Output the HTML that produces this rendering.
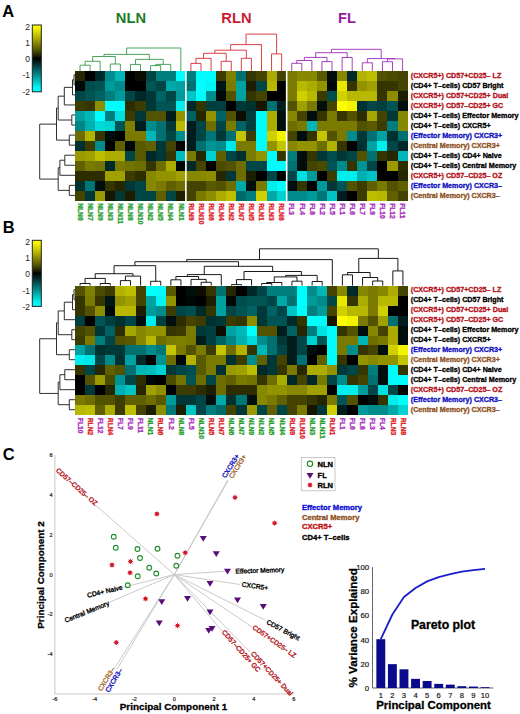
<!DOCTYPE html>
<html><head><meta charset="utf-8"><style>
html,body{margin:0;padding:0;background:#fff;width:520px;height:714px;overflow:hidden}
svg{display:block}
text{stroke-linejoin:round}
</style></head><body>
<svg width="520" height="714" viewBox="0 0 520 714" font-family='"Liberation Sans", sans-serif'>
<rect width="520" height="714" fill="#fff"/>
<g>
<text x="2.30" y="16.90" font-size="16.5" fill="#000" font-weight="bold" text-anchor="start">A</text>
<defs><linearGradient id="cb25" x1="0" y1="0" x2="0" y2="1"><stop offset="0.0000" stop-color="#ffff00"/><stop offset="0.0625" stop-color="#eded00"/><stop offset="0.1250" stop-color="#d0d000"/><stop offset="0.1875" stop-color="#b2b200"/><stop offset="0.2500" stop-color="#939300"/><stop offset="0.3125" stop-color="#737300"/><stop offset="0.3750" stop-color="#525200"/><stop offset="0.4375" stop-color="#2d2d00"/><stop offset="0.5000" stop-color="#000000"/><stop offset="0.5625" stop-color="#002323"/><stop offset="0.6250" stop-color="#004646"/><stop offset="0.6875" stop-color="#006969"/><stop offset="0.7500" stop-color="#008c8c"/><stop offset="0.8125" stop-color="#00afaf"/><stop offset="0.8750" stop-color="#00d2d2"/><stop offset="0.9375" stop-color="#00f5f5"/><stop offset="1.0000" stop-color="#00ffff"/></linearGradient></defs>
<rect x="32.3" y="25" width="9.0" height="66.8" fill="url(#cb25)" stroke="#222" stroke-width="1"/>
<text x="30.00" y="30.30" font-size="8.5" fill="#222" font-weight="normal" text-anchor="end">2</text>
<text x="30.00" y="46.00" font-size="8.5" fill="#222" font-weight="normal" text-anchor="end">1</text>
<text x="30.00" y="61.90" font-size="8.5" fill="#222" font-weight="normal" text-anchor="end">0</text>
<text x="30.00" y="78.40" font-size="8.5" fill="#222" font-weight="normal" text-anchor="end">-1</text>
<text x="30.00" y="94.50" font-size="8.5" fill="#222" font-weight="normal" text-anchor="end">-2</text>
<text x="130.90" y="22.90" font-size="14.7" fill="#1a7d26" font-weight="bold" text-anchor="middle">NLN</text>
<text x="236.40" y="22.90" font-size="14.7" fill="#cc1a30" font-weight="bold" text-anchor="middle">RLN</text>
<text x="347.10" y="22.90" font-size="14.7" fill="#921e9e" font-weight="bold" text-anchor="middle">FL</text>
<g shape-rendering="crispEdges">
<rect x="75.00" y="71.00" width="10.13" height="10.07" fill="#262600"/>
<rect x="75.00" y="81.02" width="10.13" height="10.07" fill="#000707"/>
<rect x="75.00" y="91.04" width="10.13" height="10.07" fill="#004646"/>
<rect x="75.00" y="101.06" width="10.13" height="10.07" fill="#3c3c00"/>
<rect x="75.00" y="111.08" width="10.13" height="10.07" fill="#00a1a1"/>
<rect x="75.00" y="121.10" width="10.13" height="10.07" fill="#008585"/>
<rect x="75.00" y="131.12" width="10.13" height="10.07" fill="#6d6d00"/>
<rect x="75.00" y="141.14" width="10.13" height="10.07" fill="#003131"/>
<rect x="75.00" y="151.16" width="10.13" height="10.07" fill="#9a9a00"/>
<rect x="75.00" y="161.18" width="10.13" height="10.07" fill="#606000"/>
<rect x="75.00" y="171.20" width="10.13" height="10.07" fill="#2d2d00"/>
<rect x="75.00" y="181.22" width="10.13" height="10.07" fill="#003131"/>
<rect x="75.00" y="191.24" width="10.13" height="10.07" fill="#444400"/>
<rect x="85.08" y="71.00" width="10.13" height="10.07" fill="#000000"/>
<rect x="85.08" y="81.02" width="10.13" height="10.07" fill="#004d4d"/>
<rect x="85.08" y="91.04" width="10.13" height="10.07" fill="#005454"/>
<rect x="85.08" y="101.06" width="10.13" height="10.07" fill="#353500"/>
<rect x="85.08" y="111.08" width="10.13" height="10.07" fill="#00b6b6"/>
<rect x="85.08" y="121.10" width="10.13" height="10.07" fill="#00afaf"/>
<rect x="85.08" y="131.12" width="10.13" height="10.07" fill="#b2b200"/>
<rect x="85.08" y="141.14" width="10.13" height="10.07" fill="#3c3c00"/>
<rect x="85.08" y="151.16" width="10.13" height="10.07" fill="#a0a000"/>
<rect x="85.08" y="161.18" width="10.13" height="10.07" fill="#7a7a00"/>
<rect x="85.08" y="171.20" width="10.13" height="10.07" fill="#2d2d00"/>
<rect x="85.08" y="181.22" width="10.13" height="10.07" fill="#007777"/>
<rect x="85.08" y="191.24" width="10.13" height="10.07" fill="#003838"/>
<rect x="95.16" y="71.00" width="10.13" height="10.07" fill="#002a2a"/>
<rect x="95.16" y="81.02" width="10.13" height="10.07" fill="#005454"/>
<rect x="95.16" y="91.04" width="10.13" height="10.07" fill="#006262"/>
<rect x="95.16" y="101.06" width="10.13" height="10.07" fill="#8d8d00"/>
<rect x="95.16" y="111.08" width="10.13" height="10.07" fill="#00ffff"/>
<rect x="95.16" y="121.10" width="10.13" height="10.07" fill="#00d9d9"/>
<rect x="95.16" y="131.12" width="10.13" height="10.07" fill="#353500"/>
<rect x="95.16" y="141.14" width="10.13" height="10.07" fill="#008c8c"/>
<rect x="95.16" y="151.16" width="10.13" height="10.07" fill="#bebe00"/>
<rect x="95.16" y="161.18" width="10.13" height="10.07" fill="#737300"/>
<rect x="95.16" y="171.20" width="10.13" height="10.07" fill="#2d2d00"/>
<rect x="95.16" y="181.22" width="10.13" height="10.07" fill="#000e0e"/>
<rect x="95.16" y="191.24" width="10.13" height="10.07" fill="#9a9a00"/>
<rect x="105.24" y="71.00" width="10.13" height="10.07" fill="#008c8c"/>
<rect x="105.24" y="81.02" width="10.13" height="10.07" fill="#009a9a"/>
<rect x="105.24" y="91.04" width="10.13" height="10.07" fill="#007e7e"/>
<rect x="105.24" y="101.06" width="10.13" height="10.07" fill="#00ffff"/>
<rect x="105.24" y="111.08" width="10.13" height="10.07" fill="#007e7e"/>
<rect x="105.24" y="121.10" width="10.13" height="10.07" fill="#00d2d2"/>
<rect x="105.24" y="131.12" width="10.13" height="10.07" fill="#000e0e"/>
<rect x="105.24" y="141.14" width="10.13" height="10.07" fill="#000000"/>
<rect x="105.24" y="151.16" width="10.13" height="10.07" fill="#acac00"/>
<rect x="105.24" y="161.18" width="10.13" height="10.07" fill="#002a2a"/>
<rect x="105.24" y="171.20" width="10.13" height="10.07" fill="#a0a000"/>
<rect x="105.24" y="181.22" width="10.13" height="10.07" fill="#353500"/>
<rect x="105.24" y="191.24" width="10.13" height="10.07" fill="#151500"/>
<rect x="115.32" y="71.00" width="10.13" height="10.07" fill="#00b6b6"/>
<rect x="115.32" y="81.02" width="10.13" height="10.07" fill="#008c8c"/>
<rect x="115.32" y="91.04" width="10.13" height="10.07" fill="#009a9a"/>
<rect x="115.32" y="101.06" width="10.13" height="10.07" fill="#00fcfc"/>
<rect x="115.32" y="111.08" width="10.13" height="10.07" fill="#00e0e0"/>
<rect x="115.32" y="121.10" width="10.13" height="10.07" fill="#005454"/>
<rect x="115.32" y="131.12" width="10.13" height="10.07" fill="#000000"/>
<rect x="115.32" y="141.14" width="10.13" height="10.07" fill="#606000"/>
<rect x="115.32" y="151.16" width="10.13" height="10.07" fill="#acac00"/>
<rect x="115.32" y="161.18" width="10.13" height="10.07" fill="#7a7a00"/>
<rect x="115.32" y="171.20" width="10.13" height="10.07" fill="#a0a000"/>
<rect x="115.32" y="181.22" width="10.13" height="10.07" fill="#262600"/>
<rect x="115.32" y="191.24" width="10.13" height="10.07" fill="#003838"/>
<rect x="125.40" y="71.00" width="10.13" height="10.07" fill="#000000"/>
<rect x="125.40" y="81.02" width="10.13" height="10.07" fill="#000000"/>
<rect x="125.40" y="91.04" width="10.13" height="10.07" fill="#004646"/>
<rect x="125.40" y="101.06" width="10.13" height="10.07" fill="#2d2d00"/>
<rect x="125.40" y="111.08" width="10.13" height="10.07" fill="#3c3c00"/>
<rect x="125.40" y="121.10" width="10.13" height="10.07" fill="#808000"/>
<rect x="125.40" y="131.12" width="10.13" height="10.07" fill="#7a7a00"/>
<rect x="125.40" y="141.14" width="10.13" height="10.07" fill="#000707"/>
<rect x="125.40" y="151.16" width="10.13" height="10.07" fill="#004646"/>
<rect x="125.40" y="161.18" width="10.13" height="10.07" fill="#737300"/>
<rect x="125.40" y="171.20" width="10.13" height="10.07" fill="#3c3c00"/>
<rect x="125.40" y="181.22" width="10.13" height="10.07" fill="#003838"/>
<rect x="125.40" y="191.24" width="10.13" height="10.07" fill="#1d1d00"/>
<rect x="135.48" y="71.00" width="10.13" height="10.07" fill="#0c0c00"/>
<rect x="135.48" y="81.02" width="10.13" height="10.07" fill="#000000"/>
<rect x="135.48" y="91.04" width="10.13" height="10.07" fill="#002a2a"/>
<rect x="135.48" y="101.06" width="10.13" height="10.07" fill="#3c3c00"/>
<rect x="135.48" y="111.08" width="10.13" height="10.07" fill="#003838"/>
<rect x="135.48" y="121.10" width="10.13" height="10.07" fill="#001c1c"/>
<rect x="135.48" y="131.12" width="10.13" height="10.07" fill="#7a7a00"/>
<rect x="135.48" y="141.14" width="10.13" height="10.07" fill="#595900"/>
<rect x="135.48" y="151.16" width="10.13" height="10.07" fill="#595900"/>
<rect x="135.48" y="161.18" width="10.13" height="10.07" fill="#6d6d00"/>
<rect x="135.48" y="171.20" width="10.13" height="10.07" fill="#2d2d00"/>
<rect x="135.48" y="181.22" width="10.13" height="10.07" fill="#004646"/>
<rect x="135.48" y="191.24" width="10.13" height="10.07" fill="#004646"/>
<rect x="145.56" y="71.00" width="10.13" height="10.07" fill="#004646"/>
<rect x="145.56" y="81.02" width="10.13" height="10.07" fill="#005454"/>
<rect x="145.56" y="91.04" width="10.13" height="10.07" fill="#003838"/>
<rect x="145.56" y="101.06" width="10.13" height="10.07" fill="#003838"/>
<rect x="145.56" y="111.08" width="10.13" height="10.07" fill="#525200"/>
<rect x="145.56" y="121.10" width="10.13" height="10.07" fill="#008c8c"/>
<rect x="145.56" y="131.12" width="10.13" height="10.07" fill="#00b6b6"/>
<rect x="145.56" y="141.14" width="10.13" height="10.07" fill="#606000"/>
<rect x="145.56" y="151.16" width="10.13" height="10.07" fill="#002a2a"/>
<rect x="145.56" y="161.18" width="10.13" height="10.07" fill="#353500"/>
<rect x="145.56" y="171.20" width="10.13" height="10.07" fill="#878700"/>
<rect x="145.56" y="181.22" width="10.13" height="10.07" fill="#878700"/>
<rect x="145.56" y="191.24" width="10.13" height="10.07" fill="#004646"/>
<rect x="155.64" y="71.00" width="10.13" height="10.07" fill="#007e7e"/>
<rect x="155.64" y="81.02" width="10.13" height="10.07" fill="#004646"/>
<rect x="155.64" y="91.04" width="10.13" height="10.07" fill="#006262"/>
<rect x="155.64" y="101.06" width="10.13" height="10.07" fill="#005454"/>
<rect x="155.64" y="111.08" width="10.13" height="10.07" fill="#525200"/>
<rect x="155.64" y="121.10" width="10.13" height="10.07" fill="#007070"/>
<rect x="155.64" y="131.12" width="10.13" height="10.07" fill="#007070"/>
<rect x="155.64" y="141.14" width="10.13" height="10.07" fill="#003838"/>
<rect x="155.64" y="151.16" width="10.13" height="10.07" fill="#003838"/>
<rect x="155.64" y="161.18" width="10.13" height="10.07" fill="#6d6d00"/>
<rect x="155.64" y="171.20" width="10.13" height="10.07" fill="#939300"/>
<rect x="155.64" y="181.22" width="10.13" height="10.07" fill="#7a7a00"/>
<rect x="155.64" y="191.24" width="10.13" height="10.07" fill="#606000"/>
<rect x="165.72" y="71.00" width="10.13" height="10.07" fill="#007e7e"/>
<rect x="165.72" y="81.02" width="10.13" height="10.07" fill="#00a8a8"/>
<rect x="165.72" y="91.04" width="10.13" height="10.07" fill="#004646"/>
<rect x="165.72" y="101.06" width="10.13" height="10.07" fill="#005454"/>
<rect x="165.72" y="111.08" width="10.13" height="10.07" fill="#001c1c"/>
<rect x="165.72" y="121.10" width="10.13" height="10.07" fill="#003838"/>
<rect x="165.72" y="131.12" width="10.13" height="10.07" fill="#004646"/>
<rect x="165.72" y="141.14" width="10.13" height="10.07" fill="#444400"/>
<rect x="165.72" y="151.16" width="10.13" height="10.07" fill="#353500"/>
<rect x="165.72" y="161.18" width="10.13" height="10.07" fill="#acac00"/>
<rect x="165.72" y="171.20" width="10.13" height="10.07" fill="#939300"/>
<rect x="165.72" y="181.22" width="10.13" height="10.07" fill="#606000"/>
<rect x="165.72" y="191.24" width="10.13" height="10.07" fill="#004646"/>
<rect x="175.80" y="71.00" width="10.13" height="10.07" fill="#00ffff"/>
<rect x="175.80" y="81.02" width="10.13" height="10.07" fill="#00a1a1"/>
<rect x="175.80" y="91.04" width="10.13" height="10.07" fill="#009a9a"/>
<rect x="175.80" y="101.06" width="10.13" height="10.07" fill="#00eeee"/>
<rect x="175.80" y="111.08" width="10.13" height="10.07" fill="#939300"/>
<rect x="175.80" y="121.10" width="10.13" height="10.07" fill="#b8b800"/>
<rect x="175.80" y="131.12" width="10.13" height="10.07" fill="#008c8c"/>
<rect x="175.80" y="141.14" width="10.13" height="10.07" fill="#000000"/>
<rect x="175.80" y="151.16" width="10.13" height="10.07" fill="#00bdbd"/>
<rect x="175.80" y="161.18" width="10.13" height="10.07" fill="#000707"/>
<rect x="175.80" y="171.20" width="10.13" height="10.07" fill="#a0a000"/>
<rect x="175.80" y="181.22" width="10.13" height="10.07" fill="#6d6d00"/>
<rect x="175.80" y="191.24" width="10.13" height="10.07" fill="#1d1d00"/>
<rect x="185.88" y="71.00" width="10.13" height="10.07" fill="#007e7e"/>
<rect x="185.88" y="81.02" width="10.13" height="10.07" fill="#007070"/>
<rect x="185.88" y="91.04" width="10.13" height="10.07" fill="#00c4c4"/>
<rect x="185.88" y="101.06" width="10.13" height="10.07" fill="#002a2a"/>
<rect x="185.88" y="111.08" width="10.13" height="10.07" fill="#006262"/>
<rect x="185.88" y="121.10" width="10.13" height="10.07" fill="#001c1c"/>
<rect x="185.88" y="131.12" width="10.13" height="10.07" fill="#001c1c"/>
<rect x="185.88" y="141.14" width="10.13" height="10.07" fill="#001c1c"/>
<rect x="185.88" y="151.16" width="10.13" height="10.07" fill="#7a7a00"/>
<rect x="185.88" y="161.18" width="10.13" height="10.07" fill="#002a2a"/>
<rect x="185.88" y="171.20" width="10.13" height="10.07" fill="#878700"/>
<rect x="185.88" y="181.22" width="10.13" height="10.07" fill="#444400"/>
<rect x="185.88" y="191.24" width="10.13" height="10.07" fill="#444400"/>
<rect x="195.96" y="71.00" width="10.13" height="10.07" fill="#00fcfc"/>
<rect x="195.96" y="81.02" width="10.13" height="10.07" fill="#00ffff"/>
<rect x="195.96" y="91.04" width="10.13" height="10.07" fill="#00fcfc"/>
<rect x="195.96" y="101.06" width="10.13" height="10.07" fill="#353500"/>
<rect x="195.96" y="111.08" width="10.13" height="10.07" fill="#262600"/>
<rect x="195.96" y="121.10" width="10.13" height="10.07" fill="#004646"/>
<rect x="195.96" y="131.12" width="10.13" height="10.07" fill="#004646"/>
<rect x="195.96" y="141.14" width="10.13" height="10.07" fill="#007070"/>
<rect x="195.96" y="151.16" width="10.13" height="10.07" fill="#262600"/>
<rect x="195.96" y="161.18" width="10.13" height="10.07" fill="#444400"/>
<rect x="195.96" y="171.20" width="10.13" height="10.07" fill="#878700"/>
<rect x="195.96" y="181.22" width="10.13" height="10.07" fill="#444400"/>
<rect x="195.96" y="191.24" width="10.13" height="10.07" fill="#7a7a00"/>
<rect x="206.04" y="71.00" width="10.13" height="10.07" fill="#00fcfc"/>
<rect x="206.04" y="81.02" width="10.13" height="10.07" fill="#00f5f5"/>
<rect x="206.04" y="91.04" width="10.13" height="10.07" fill="#008c8c"/>
<rect x="206.04" y="101.06" width="10.13" height="10.07" fill="#003f3f"/>
<rect x="206.04" y="111.08" width="10.13" height="10.07" fill="#939300"/>
<rect x="206.04" y="121.10" width="10.13" height="10.07" fill="#6d6d00"/>
<rect x="206.04" y="131.12" width="10.13" height="10.07" fill="#007777"/>
<rect x="206.04" y="141.14" width="10.13" height="10.07" fill="#009393"/>
<rect x="206.04" y="151.16" width="10.13" height="10.07" fill="#00d2d2"/>
<rect x="206.04" y="161.18" width="10.13" height="10.07" fill="#000000"/>
<rect x="206.04" y="171.20" width="10.13" height="10.07" fill="#8d8d00"/>
<rect x="206.04" y="181.22" width="10.13" height="10.07" fill="#595900"/>
<rect x="206.04" y="191.24" width="10.13" height="10.07" fill="#8d8d00"/>
<rect x="216.12" y="71.00" width="10.13" height="10.07" fill="#3c3c00"/>
<rect x="216.12" y="81.02" width="10.13" height="10.07" fill="#001515"/>
<rect x="216.12" y="91.04" width="10.13" height="10.07" fill="#000707"/>
<rect x="216.12" y="101.06" width="10.13" height="10.07" fill="#003f3f"/>
<rect x="216.12" y="111.08" width="10.13" height="10.07" fill="#006262"/>
<rect x="216.12" y="121.10" width="10.13" height="10.07" fill="#004646"/>
<rect x="216.12" y="131.12" width="10.13" height="10.07" fill="#003838"/>
<rect x="216.12" y="141.14" width="10.13" height="10.07" fill="#008c8c"/>
<rect x="216.12" y="151.16" width="10.13" height="10.07" fill="#606000"/>
<rect x="216.12" y="161.18" width="10.13" height="10.07" fill="#4b4b00"/>
<rect x="216.12" y="171.20" width="10.13" height="10.07" fill="#262600"/>
<rect x="216.12" y="181.22" width="10.13" height="10.07" fill="#525200"/>
<rect x="216.12" y="191.24" width="10.13" height="10.07" fill="#acac00"/>
<rect x="226.20" y="71.00" width="10.13" height="10.07" fill="#808000"/>
<rect x="226.20" y="81.02" width="10.13" height="10.07" fill="#7a7a00"/>
<rect x="226.20" y="91.04" width="10.13" height="10.07" fill="#525200"/>
<rect x="226.20" y="101.06" width="10.13" height="10.07" fill="#000000"/>
<rect x="226.20" y="111.08" width="10.13" height="10.07" fill="#525200"/>
<rect x="226.20" y="121.10" width="10.13" height="10.07" fill="#7a7a00"/>
<rect x="226.20" y="131.12" width="10.13" height="10.07" fill="#007070"/>
<rect x="226.20" y="141.14" width="10.13" height="10.07" fill="#00e7e7"/>
<rect x="226.20" y="151.16" width="10.13" height="10.07" fill="#004646"/>
<rect x="226.20" y="161.18" width="10.13" height="10.07" fill="#525200"/>
<rect x="226.20" y="171.20" width="10.13" height="10.07" fill="#003838"/>
<rect x="226.20" y="181.22" width="10.13" height="10.07" fill="#6d6d00"/>
<rect x="226.20" y="191.24" width="10.13" height="10.07" fill="#bebe00"/>
<rect x="236.28" y="71.00" width="10.13" height="10.07" fill="#007070"/>
<rect x="236.28" y="81.02" width="10.13" height="10.07" fill="#00a1a1"/>
<rect x="236.28" y="91.04" width="10.13" height="10.07" fill="#00a1a1"/>
<rect x="236.28" y="101.06" width="10.13" height="10.07" fill="#003838"/>
<rect x="236.28" y="111.08" width="10.13" height="10.07" fill="#0c0c00"/>
<rect x="236.28" y="121.10" width="10.13" height="10.07" fill="#006262"/>
<rect x="236.28" y="131.12" width="10.13" height="10.07" fill="#c4c400"/>
<rect x="236.28" y="141.14" width="10.13" height="10.07" fill="#7a7a00"/>
<rect x="236.28" y="151.16" width="10.13" height="10.07" fill="#003131"/>
<rect x="236.28" y="161.18" width="10.13" height="10.07" fill="#6d6d00"/>
<rect x="236.28" y="171.20" width="10.13" height="10.07" fill="#6d6d00"/>
<rect x="236.28" y="181.22" width="10.13" height="10.07" fill="#00a8a8"/>
<rect x="236.28" y="191.24" width="10.13" height="10.07" fill="#006969"/>
<rect x="246.36" y="71.00" width="10.13" height="10.07" fill="#353500"/>
<rect x="246.36" y="81.02" width="10.13" height="10.07" fill="#1d1d00"/>
<rect x="246.36" y="91.04" width="10.13" height="10.07" fill="#353500"/>
<rect x="246.36" y="101.06" width="10.13" height="10.07" fill="#003131"/>
<rect x="246.36" y="111.08" width="10.13" height="10.07" fill="#003f3f"/>
<rect x="246.36" y="121.10" width="10.13" height="10.07" fill="#003f3f"/>
<rect x="246.36" y="131.12" width="10.13" height="10.07" fill="#3c3c00"/>
<rect x="246.36" y="141.14" width="10.13" height="10.07" fill="#7a7a00"/>
<rect x="246.36" y="151.16" width="10.13" height="10.07" fill="#7a7a00"/>
<rect x="246.36" y="161.18" width="10.13" height="10.07" fill="#004646"/>
<rect x="246.36" y="171.20" width="10.13" height="10.07" fill="#1d1d00"/>
<rect x="246.36" y="181.22" width="10.13" height="10.07" fill="#000e0e"/>
<rect x="246.36" y="191.24" width="10.13" height="10.07" fill="#007e7e"/>
<rect x="256.44" y="71.00" width="10.13" height="10.07" fill="#444400"/>
<rect x="256.44" y="81.02" width="10.13" height="10.07" fill="#004646"/>
<rect x="256.44" y="91.04" width="10.13" height="10.07" fill="#444400"/>
<rect x="256.44" y="101.06" width="10.13" height="10.07" fill="#151500"/>
<rect x="256.44" y="111.08" width="10.13" height="10.07" fill="#00fcfc"/>
<rect x="256.44" y="121.10" width="10.13" height="10.07" fill="#00fcfc"/>
<rect x="256.44" y="131.12" width="10.13" height="10.07" fill="#00fcfc"/>
<rect x="256.44" y="141.14" width="10.13" height="10.07" fill="#00fcfc"/>
<rect x="256.44" y="151.16" width="10.13" height="10.07" fill="#939300"/>
<rect x="256.44" y="161.18" width="10.13" height="10.07" fill="#004646"/>
<rect x="256.44" y="171.20" width="10.13" height="10.07" fill="#000000"/>
<rect x="256.44" y="181.22" width="10.13" height="10.07" fill="#7a7a00"/>
<rect x="256.44" y="191.24" width="10.13" height="10.07" fill="#d0d000"/>
<rect x="266.52" y="71.00" width="10.13" height="10.07" fill="#acac00"/>
<rect x="266.52" y="81.02" width="10.13" height="10.07" fill="#b8b800"/>
<rect x="266.52" y="91.04" width="10.13" height="10.07" fill="#000000"/>
<rect x="266.52" y="101.06" width="10.13" height="10.07" fill="#007070"/>
<rect x="266.52" y="111.08" width="10.13" height="10.07" fill="#acac00"/>
<rect x="266.52" y="121.10" width="10.13" height="10.07" fill="#acac00"/>
<rect x="266.52" y="131.12" width="10.13" height="10.07" fill="#d0d000"/>
<rect x="266.52" y="141.14" width="10.13" height="10.07" fill="#939300"/>
<rect x="266.52" y="151.16" width="10.13" height="10.07" fill="#00fcfc"/>
<rect x="266.52" y="161.18" width="10.13" height="10.07" fill="#00fcfc"/>
<rect x="266.52" y="171.20" width="10.13" height="10.07" fill="#004646"/>
<rect x="266.52" y="181.22" width="10.13" height="10.07" fill="#00eeee"/>
<rect x="266.52" y="191.24" width="10.13" height="10.07" fill="#00a8a8"/>
<rect x="276.60" y="71.00" width="10.13" height="10.07" fill="#444400"/>
<rect x="276.60" y="81.02" width="10.13" height="10.07" fill="#000000"/>
<rect x="276.60" y="91.04" width="10.13" height="10.07" fill="#000000"/>
<rect x="276.60" y="101.06" width="10.13" height="10.07" fill="#001c1c"/>
<rect x="276.60" y="111.08" width="10.13" height="10.07" fill="#000e0e"/>
<rect x="276.60" y="121.10" width="10.13" height="10.07" fill="#000e0e"/>
<rect x="276.60" y="131.12" width="10.13" height="10.07" fill="#f3f300"/>
<rect x="276.60" y="141.14" width="10.13" height="10.07" fill="#c4c400"/>
<rect x="276.60" y="151.16" width="10.13" height="10.07" fill="#353500"/>
<rect x="276.60" y="161.18" width="10.13" height="10.07" fill="#00fcfc"/>
<rect x="276.60" y="171.20" width="10.13" height="10.07" fill="#000000"/>
<rect x="276.60" y="181.22" width="10.13" height="10.07" fill="#00fcfc"/>
<rect x="276.60" y="191.24" width="10.13" height="10.07" fill="#00d2d2"/>
<rect x="286.68" y="71.00" width="10.13" height="10.07" fill="#7a7a00"/>
<rect x="286.68" y="81.02" width="10.13" height="10.07" fill="#7a7a00"/>
<rect x="286.68" y="91.04" width="10.13" height="10.07" fill="#7a7a00"/>
<rect x="286.68" y="101.06" width="10.13" height="10.07" fill="#525200"/>
<rect x="286.68" y="111.08" width="10.13" height="10.07" fill="#878700"/>
<rect x="286.68" y="121.10" width="10.13" height="10.07" fill="#6d6d00"/>
<rect x="286.68" y="131.12" width="10.13" height="10.07" fill="#444400"/>
<rect x="286.68" y="141.14" width="10.13" height="10.07" fill="#878700"/>
<rect x="286.68" y="151.16" width="10.13" height="10.07" fill="#007e7e"/>
<rect x="286.68" y="161.18" width="10.13" height="10.07" fill="#007070"/>
<rect x="286.68" y="171.20" width="10.13" height="10.07" fill="#004646"/>
<rect x="286.68" y="181.22" width="10.13" height="10.07" fill="#000e0e"/>
<rect x="286.68" y="191.24" width="10.13" height="10.07" fill="#008c8c"/>
<rect x="296.76" y="71.00" width="10.13" height="10.07" fill="#878700"/>
<rect x="296.76" y="81.02" width="10.13" height="10.07" fill="#b8b800"/>
<rect x="296.76" y="91.04" width="10.13" height="10.07" fill="#d0d000"/>
<rect x="296.76" y="101.06" width="10.13" height="10.07" fill="#a0a000"/>
<rect x="296.76" y="111.08" width="10.13" height="10.07" fill="#444400"/>
<rect x="296.76" y="121.10" width="10.13" height="10.07" fill="#7a7a00"/>
<rect x="296.76" y="131.12" width="10.13" height="10.07" fill="#000e0e"/>
<rect x="296.76" y="141.14" width="10.13" height="10.07" fill="#939300"/>
<rect x="296.76" y="151.16" width="10.13" height="10.07" fill="#000e0e"/>
<rect x="296.76" y="161.18" width="10.13" height="10.07" fill="#000e0e"/>
<rect x="296.76" y="171.20" width="10.13" height="10.07" fill="#00e0e0"/>
<rect x="296.76" y="181.22" width="10.13" height="10.07" fill="#353500"/>
<rect x="296.76" y="191.24" width="10.13" height="10.07" fill="#008c8c"/>
<rect x="306.84" y="71.00" width="10.13" height="10.07" fill="#878700"/>
<rect x="306.84" y="81.02" width="10.13" height="10.07" fill="#acac00"/>
<rect x="306.84" y="91.04" width="10.13" height="10.07" fill="#b8b800"/>
<rect x="306.84" y="101.06" width="10.13" height="10.07" fill="#7a7a00"/>
<rect x="306.84" y="111.08" width="10.13" height="10.07" fill="#000e0e"/>
<rect x="306.84" y="121.10" width="10.13" height="10.07" fill="#00b6b6"/>
<rect x="306.84" y="131.12" width="10.13" height="10.07" fill="#353500"/>
<rect x="306.84" y="141.14" width="10.13" height="10.07" fill="#939300"/>
<rect x="306.84" y="151.16" width="10.13" height="10.07" fill="#353500"/>
<rect x="306.84" y="161.18" width="10.13" height="10.07" fill="#444400"/>
<rect x="306.84" y="171.20" width="10.13" height="10.07" fill="#009a9a"/>
<rect x="306.84" y="181.22" width="10.13" height="10.07" fill="#000000"/>
<rect x="306.84" y="191.24" width="10.13" height="10.07" fill="#009a9a"/>
<rect x="316.92" y="71.00" width="10.13" height="10.07" fill="#595900"/>
<rect x="316.92" y="81.02" width="10.13" height="10.07" fill="#939300"/>
<rect x="316.92" y="91.04" width="10.13" height="10.07" fill="#3c3c00"/>
<rect x="316.92" y="101.06" width="10.13" height="10.07" fill="#000e0e"/>
<rect x="316.92" y="111.08" width="10.13" height="10.07" fill="#353500"/>
<rect x="316.92" y="121.10" width="10.13" height="10.07" fill="#7a7a00"/>
<rect x="316.92" y="131.12" width="10.13" height="10.07" fill="#c4c400"/>
<rect x="316.92" y="141.14" width="10.13" height="10.07" fill="#6d6d00"/>
<rect x="316.92" y="151.16" width="10.13" height="10.07" fill="#003838"/>
<rect x="316.92" y="161.18" width="10.13" height="10.07" fill="#4b4b00"/>
<rect x="316.92" y="171.20" width="10.13" height="10.07" fill="#000000"/>
<rect x="316.92" y="181.22" width="10.13" height="10.07" fill="#009a9a"/>
<rect x="316.92" y="191.24" width="10.13" height="10.07" fill="#007777"/>
<rect x="327.00" y="71.00" width="10.13" height="10.07" fill="#000e0e"/>
<rect x="327.00" y="81.02" width="10.13" height="10.07" fill="#000707"/>
<rect x="327.00" y="91.04" width="10.13" height="10.07" fill="#004d4d"/>
<rect x="327.00" y="101.06" width="10.13" height="10.07" fill="#444400"/>
<rect x="327.00" y="111.08" width="10.13" height="10.07" fill="#7a7a00"/>
<rect x="327.00" y="121.10" width="10.13" height="10.07" fill="#7a7a00"/>
<rect x="327.00" y="131.12" width="10.13" height="10.07" fill="#525200"/>
<rect x="327.00" y="141.14" width="10.13" height="10.07" fill="#b2b200"/>
<rect x="327.00" y="151.16" width="10.13" height="10.07" fill="#004d4d"/>
<rect x="327.00" y="161.18" width="10.13" height="10.07" fill="#005454"/>
<rect x="327.00" y="171.20" width="10.13" height="10.07" fill="#3c3c00"/>
<rect x="327.00" y="181.22" width="10.13" height="10.07" fill="#003838"/>
<rect x="327.00" y="191.24" width="10.13" height="10.07" fill="#00c4c4"/>
<rect x="337.08" y="71.00" width="10.13" height="10.07" fill="#878700"/>
<rect x="337.08" y="81.02" width="10.13" height="10.07" fill="#e8e800"/>
<rect x="337.08" y="91.04" width="10.13" height="10.07" fill="#d0d000"/>
<rect x="337.08" y="101.06" width="10.13" height="10.07" fill="#fefe00"/>
<rect x="337.08" y="111.08" width="10.13" height="10.07" fill="#353500"/>
<rect x="337.08" y="121.10" width="10.13" height="10.07" fill="#7a7a00"/>
<rect x="337.08" y="131.12" width="10.13" height="10.07" fill="#7a7a00"/>
<rect x="337.08" y="141.14" width="10.13" height="10.07" fill="#353500"/>
<rect x="337.08" y="151.16" width="10.13" height="10.07" fill="#003838"/>
<rect x="337.08" y="161.18" width="10.13" height="10.07" fill="#008c8c"/>
<rect x="337.08" y="171.20" width="10.13" height="10.07" fill="#00eeee"/>
<rect x="337.08" y="181.22" width="10.13" height="10.07" fill="#005454"/>
<rect x="337.08" y="191.24" width="10.13" height="10.07" fill="#001c1c"/>
<rect x="347.16" y="71.00" width="10.13" height="10.07" fill="#002a2a"/>
<rect x="347.16" y="81.02" width="10.13" height="10.07" fill="#353500"/>
<rect x="347.16" y="91.04" width="10.13" height="10.07" fill="#b8b800"/>
<rect x="347.16" y="101.06" width="10.13" height="10.07" fill="#f3f300"/>
<rect x="347.16" y="111.08" width="10.13" height="10.07" fill="#525200"/>
<rect x="347.16" y="121.10" width="10.13" height="10.07" fill="#7a7a00"/>
<rect x="347.16" y="131.12" width="10.13" height="10.07" fill="#008c8c"/>
<rect x="347.16" y="141.14" width="10.13" height="10.07" fill="#000000"/>
<rect x="347.16" y="151.16" width="10.13" height="10.07" fill="#004646"/>
<rect x="347.16" y="161.18" width="10.13" height="10.07" fill="#353500"/>
<rect x="347.16" y="171.20" width="10.13" height="10.07" fill="#00eeee"/>
<rect x="347.16" y="181.22" width="10.13" height="10.07" fill="#525200"/>
<rect x="347.16" y="191.24" width="10.13" height="10.07" fill="#000000"/>
<rect x="357.24" y="71.00" width="10.13" height="10.07" fill="#b2b200"/>
<rect x="357.24" y="81.02" width="10.13" height="10.07" fill="#939300"/>
<rect x="357.24" y="91.04" width="10.13" height="10.07" fill="#b8b800"/>
<rect x="357.24" y="101.06" width="10.13" height="10.07" fill="#003131"/>
<rect x="357.24" y="111.08" width="10.13" height="10.07" fill="#2d2d00"/>
<rect x="357.24" y="121.10" width="10.13" height="10.07" fill="#525200"/>
<rect x="357.24" y="131.12" width="10.13" height="10.07" fill="#003838"/>
<rect x="357.24" y="141.14" width="10.13" height="10.07" fill="#003131"/>
<rect x="357.24" y="151.16" width="10.13" height="10.07" fill="#525200"/>
<rect x="357.24" y="161.18" width="10.13" height="10.07" fill="#009393"/>
<rect x="357.24" y="171.20" width="10.13" height="10.07" fill="#00afaf"/>
<rect x="357.24" y="181.22" width="10.13" height="10.07" fill="#3c3c00"/>
<rect x="357.24" y="191.24" width="10.13" height="10.07" fill="#3c3c00"/>
<rect x="367.32" y="71.00" width="10.13" height="10.07" fill="#bebe00"/>
<rect x="367.32" y="81.02" width="10.13" height="10.07" fill="#a0a000"/>
<rect x="367.32" y="91.04" width="10.13" height="10.07" fill="#b8b800"/>
<rect x="367.32" y="101.06" width="10.13" height="10.07" fill="#004646"/>
<rect x="367.32" y="111.08" width="10.13" height="10.07" fill="#a6a600"/>
<rect x="367.32" y="121.10" width="10.13" height="10.07" fill="#595900"/>
<rect x="367.32" y="131.12" width="10.13" height="10.07" fill="#007070"/>
<rect x="367.32" y="141.14" width="10.13" height="10.07" fill="#00a1a1"/>
<rect x="367.32" y="151.16" width="10.13" height="10.07" fill="#007070"/>
<rect x="367.32" y="161.18" width="10.13" height="10.07" fill="#004646"/>
<rect x="367.32" y="171.20" width="10.13" height="10.07" fill="#00c4c4"/>
<rect x="367.32" y="181.22" width="10.13" height="10.07" fill="#606000"/>
<rect x="367.32" y="191.24" width="10.13" height="10.07" fill="#bebe00"/>
<rect x="377.40" y="71.00" width="10.13" height="10.07" fill="#525200"/>
<rect x="377.40" y="81.02" width="10.13" height="10.07" fill="#353500"/>
<rect x="377.40" y="91.04" width="10.13" height="10.07" fill="#353500"/>
<rect x="377.40" y="101.06" width="10.13" height="10.07" fill="#003f3f"/>
<rect x="377.40" y="111.08" width="10.13" height="10.07" fill="#444400"/>
<rect x="377.40" y="121.10" width="10.13" height="10.07" fill="#3c3c00"/>
<rect x="377.40" y="131.12" width="10.13" height="10.07" fill="#00a1a1"/>
<rect x="377.40" y="141.14" width="10.13" height="10.07" fill="#00eeee"/>
<rect x="377.40" y="151.16" width="10.13" height="10.07" fill="#353500"/>
<rect x="377.40" y="161.18" width="10.13" height="10.07" fill="#000000"/>
<rect x="377.40" y="171.20" width="10.13" height="10.07" fill="#000000"/>
<rect x="377.40" y="181.22" width="10.13" height="10.07" fill="#7a7a00"/>
<rect x="377.40" y="191.24" width="10.13" height="10.07" fill="#b8b800"/>
<rect x="387.48" y="71.00" width="10.13" height="10.07" fill="#4b4b00"/>
<rect x="387.48" y="81.02" width="10.13" height="10.07" fill="#353500"/>
<rect x="387.48" y="91.04" width="10.13" height="10.07" fill="#8d8d00"/>
<rect x="387.48" y="101.06" width="10.13" height="10.07" fill="#005454"/>
<rect x="387.48" y="111.08" width="10.13" height="10.07" fill="#003838"/>
<rect x="387.48" y="121.10" width="10.13" height="10.07" fill="#007e7e"/>
<rect x="387.48" y="131.12" width="10.13" height="10.07" fill="#003131"/>
<rect x="387.48" y="141.14" width="10.13" height="10.07" fill="#004646"/>
<rect x="387.48" y="151.16" width="10.13" height="10.07" fill="#262600"/>
<rect x="387.48" y="161.18" width="10.13" height="10.07" fill="#9a9a00"/>
<rect x="387.48" y="171.20" width="10.13" height="10.07" fill="#000000"/>
<rect x="387.48" y="181.22" width="10.13" height="10.07" fill="#525200"/>
<rect x="387.48" y="191.24" width="10.13" height="10.07" fill="#606000"/>
<rect x="397.56" y="71.00" width="10.13" height="10.07" fill="#444400"/>
<rect x="397.56" y="81.02" width="10.13" height="10.07" fill="#444400"/>
<rect x="397.56" y="91.04" width="10.13" height="10.07" fill="#1d1d00"/>
<rect x="397.56" y="101.06" width="10.13" height="10.07" fill="#000e0e"/>
<rect x="397.56" y="111.08" width="10.13" height="10.07" fill="#878700"/>
<rect x="397.56" y="121.10" width="10.13" height="10.07" fill="#878700"/>
<rect x="397.56" y="131.12" width="10.13" height="10.07" fill="#007070"/>
<rect x="397.56" y="141.14" width="10.13" height="10.07" fill="#002a2a"/>
<rect x="397.56" y="151.16" width="10.13" height="10.07" fill="#00b6b6"/>
<rect x="397.56" y="161.18" width="10.13" height="10.07" fill="#2d2d00"/>
<rect x="397.56" y="171.20" width="10.13" height="10.07" fill="#262600"/>
<rect x="397.56" y="181.22" width="10.13" height="10.07" fill="#606000"/>
<rect x="397.56" y="191.24" width="10.13" height="10.07" fill="#444400"/>
</g>
<rect x="185.08" y="71.00" width="1.6" height="130.26" fill="#fff"/>
<rect x="285.88" y="71.00" width="1.6" height="130.26" fill="#fff"/>
<path d="M80.04,71.00V65.20H90.12V71.00M85.08,65.20V61.30H100.20V71.00M110.28,71.00V64.00H120.36V71.00M92.64,61.30V56.50H115.32V64.00M130.44,71.00V64.40H140.52V71.00M150.60,71.00V65.60H160.68V71.00M155.64,65.60V64.40H170.76V71.00M135.48,64.40V59.40H163.20V64.40M103.98,56.50V54.40H149.34V59.40M126.66,54.40V48.00H180.84V71.00" fill="none" stroke="#36984a" stroke-width="0.9"/>
<path d="M190.92,71.00V63.40H201.00V71.00M195.96,63.40V58.30H211.08V71.00M221.16,71.00V61.30H231.24V71.00M203.52,58.30V53.30H226.20V61.30M241.32,71.00V58.30H251.40V71.00M214.86,53.30V50.20H246.36V58.30M230.61,50.20V44.60H261.48V71.00M271.56,71.00V53.90H281.64V71.00M246.05,44.60V34.10H276.60V53.90" fill="none" stroke="#d82a32" stroke-width="0.9"/>
<path d="M291.72,71.00V63.30H301.80V71.00M296.76,63.30V60.50H311.88V71.00M321.96,71.00V61.60H332.04V71.00M304.32,60.50V57.40H327.00V61.60M342.12,71.00V57.50H352.20V71.00M315.66,57.40V52.70H347.16V57.50M362.28,71.00V62.80H372.36V71.00M382.44,71.00V61.70H392.52V71.00M387.48,61.70V58.90H402.60V71.00M367.32,62.80V58.60H395.04V58.90M331.41,52.70V49.30H381.18V58.60" fill="none" stroke="#a02ab8" stroke-width="0.9"/>
<path d="M75.00,74.80H74.00V84.85H75.00M74.00,79.82H72.50V94.90H75.00M72.50,87.36H64.30V104.95H75.00M75.00,115.00H71.80V125.05H75.00M64.30,96.16H58.20V120.03H71.80M75.00,135.10H69.30V145.15H75.00M58.20,108.09H56.50V140.12H69.30M75.00,155.20H64.80V165.25H75.00M64.80,160.22H59.90V175.30H75.00M75.00,185.35H69.30V195.40H75.00M59.90,167.76H58.20V190.38H69.30M56.50,124.11H39.70V179.07H58.20" fill="none" stroke="#1a1a1a" stroke-width="0.9"/>
<text x="410.80" y="77.62" font-size="7.15" fill="#b41018" font-weight="bold" text-anchor="start" stroke="#b41018" stroke-width="0.32">(CXCR5+) CD57+CD25– LZ</text>
<text x="410.80" y="87.67" font-size="7.15" fill="#000000" font-weight="bold" text-anchor="start" stroke="#000000" stroke-width="0.32">(CD4+ T–cells) CD57 Bright</text>
<text x="410.80" y="97.72" font-size="7.15" fill="#b41018" font-weight="bold" text-anchor="start" stroke="#b41018" stroke-width="0.32">(CXCR5+) CD57+CD25+ Dual</text>
<text x="410.80" y="107.78" font-size="7.15" fill="#b41018" font-weight="bold" text-anchor="start" stroke="#b41018" stroke-width="0.32">(CXCR5+) CD57–CD25+ GC</text>
<text x="410.80" y="117.82" font-size="7.15" fill="#000000" font-weight="bold" text-anchor="start" stroke="#000000" stroke-width="0.32">(CD4+ T–cells) Effector Memory</text>
<text x="410.80" y="127.88" font-size="7.15" fill="#000000" font-weight="bold" text-anchor="start" stroke="#000000" stroke-width="0.32">(CD4+ T–cells) CXCR5+</text>
<text x="410.80" y="137.93" font-size="7.15" fill="#1010c0" font-weight="bold" text-anchor="start" stroke="#1010c0" stroke-width="0.32">(Effector Memory) CXCR3+</text>
<text x="410.80" y="147.97" font-size="7.15" fill="#8e521e" font-weight="bold" text-anchor="start" stroke="#8e521e" stroke-width="0.32">(Central Memory) CXCR3+</text>
<text x="410.80" y="158.03" font-size="7.15" fill="#000000" font-weight="bold" text-anchor="start" stroke="#000000" stroke-width="0.32">(CD4+ T–cells) CD4+ Naive</text>
<text x="410.80" y="168.07" font-size="7.15" fill="#000000" font-weight="bold" text-anchor="start" stroke="#000000" stroke-width="0.32">(CD4+ T–cells) Central Memory</text>
<text x="410.80" y="178.12" font-size="7.15" fill="#b41018" font-weight="bold" text-anchor="start" stroke="#b41018" stroke-width="0.32">(CXCR5+) CD57–CD25– OZ</text>
<text x="410.80" y="188.18" font-size="7.15" fill="#1010c0" font-weight="bold" text-anchor="start" stroke="#1010c0" stroke-width="0.32">(Effector Memory) CXCR3–</text>
<text x="410.80" y="198.23" font-size="7.15" fill="#8e521e" font-weight="bold" text-anchor="start" stroke="#8e521e" stroke-width="0.32">(Central Memory) CXCR3–</text>
<text x="77.74" y="203.20" font-size="6.7" fill="#28a030" font-weight="bold" text-anchor="start" transform="rotate(90 77.74 203.20)" stroke="#28a030" stroke-width="0.3">NLN6</text>
<text x="87.82" y="203.20" font-size="6.7" fill="#28a030" font-weight="bold" text-anchor="start" transform="rotate(90 87.82 203.20)" stroke="#28a030" stroke-width="0.3">NLN7</text>
<text x="97.90" y="203.20" font-size="6.7" fill="#28a030" font-weight="bold" text-anchor="start" transform="rotate(90 97.90 203.20)" stroke="#28a030" stroke-width="0.3">NLN9</text>
<text x="107.98" y="203.20" font-size="6.7" fill="#28a030" font-weight="bold" text-anchor="start" transform="rotate(90 107.98 203.20)" stroke="#28a030" stroke-width="0.3">NLN3</text>
<text x="118.06" y="203.20" font-size="6.7" fill="#28a030" font-weight="bold" text-anchor="start" transform="rotate(90 118.06 203.20)" stroke="#28a030" stroke-width="0.3">NLN11</text>
<text x="128.14" y="203.20" font-size="6.7" fill="#28a030" font-weight="bold" text-anchor="start" transform="rotate(90 128.14 203.20)" stroke="#28a030" stroke-width="0.3">NLN8</text>
<text x="138.22" y="203.20" font-size="6.7" fill="#28a030" font-weight="bold" text-anchor="start" transform="rotate(90 138.22 203.20)" stroke="#28a030" stroke-width="0.3">NLN10</text>
<text x="148.30" y="203.20" font-size="6.7" fill="#28a030" font-weight="bold" text-anchor="start" transform="rotate(90 148.30 203.20)" stroke="#28a030" stroke-width="0.3">NLN2</text>
<text x="158.38" y="203.20" font-size="6.7" fill="#28a030" font-weight="bold" text-anchor="start" transform="rotate(90 158.38 203.20)" stroke="#28a030" stroke-width="0.3">NLN5</text>
<text x="168.46" y="203.20" font-size="6.7" fill="#28a030" font-weight="bold" text-anchor="start" transform="rotate(90 168.46 203.20)" stroke="#28a030" stroke-width="0.3">NLN4</text>
<text x="178.54" y="203.20" font-size="6.7" fill="#28a030" font-weight="bold" text-anchor="start" transform="rotate(90 178.54 203.20)" stroke="#28a030" stroke-width="0.3">NLN1</text>
<text x="188.62" y="203.20" font-size="6.7" fill="#dc2228" font-weight="bold" text-anchor="start" transform="rotate(90 188.62 203.20)" stroke="#dc2228" stroke-width="0.3">RLN9</text>
<text x="198.70" y="203.20" font-size="6.7" fill="#dc2228" font-weight="bold" text-anchor="start" transform="rotate(90 198.70 203.20)" stroke="#dc2228" stroke-width="0.3">RLN10</text>
<text x="208.78" y="203.20" font-size="6.7" fill="#dc2228" font-weight="bold" text-anchor="start" transform="rotate(90 208.78 203.20)" stroke="#dc2228" stroke-width="0.3">RLN6</text>
<text x="218.86" y="203.20" font-size="6.7" fill="#dc2228" font-weight="bold" text-anchor="start" transform="rotate(90 218.86 203.20)" stroke="#dc2228" stroke-width="0.3">RLN4</text>
<text x="228.94" y="203.20" font-size="6.7" fill="#dc2228" font-weight="bold" text-anchor="start" transform="rotate(90 228.94 203.20)" stroke="#dc2228" stroke-width="0.3">RLN2</text>
<text x="239.02" y="203.20" font-size="6.7" fill="#dc2228" font-weight="bold" text-anchor="start" transform="rotate(90 239.02 203.20)" stroke="#dc2228" stroke-width="0.3">RLN7</text>
<text x="249.10" y="203.20" font-size="6.7" fill="#dc2228" font-weight="bold" text-anchor="start" transform="rotate(90 249.10 203.20)" stroke="#dc2228" stroke-width="0.3">RLN5</text>
<text x="259.18" y="203.20" font-size="6.7" fill="#dc2228" font-weight="bold" text-anchor="start" transform="rotate(90 259.18 203.20)" stroke="#dc2228" stroke-width="0.3">RLN1</text>
<text x="269.26" y="203.20" font-size="6.7" fill="#dc2228" font-weight="bold" text-anchor="start" transform="rotate(90 269.26 203.20)" stroke="#dc2228" stroke-width="0.3">RLN3</text>
<text x="279.34" y="203.20" font-size="6.7" fill="#dc2228" font-weight="bold" text-anchor="start" transform="rotate(90 279.34 203.20)" stroke="#dc2228" stroke-width="0.3">RLN8</text>
<text x="289.42" y="203.20" font-size="6.7" fill="#a82cbc" font-weight="bold" text-anchor="start" transform="rotate(90 289.42 203.20)" stroke="#a82cbc" stroke-width="0.3">FL3</text>
<text x="299.50" y="203.20" font-size="6.7" fill="#a82cbc" font-weight="bold" text-anchor="start" transform="rotate(90 299.50 203.20)" stroke="#a82cbc" stroke-width="0.3">FL4</text>
<text x="309.58" y="203.20" font-size="6.7" fill="#a82cbc" font-weight="bold" text-anchor="start" transform="rotate(90 309.58 203.20)" stroke="#a82cbc" stroke-width="0.3">FL8</text>
<text x="319.66" y="203.20" font-size="6.7" fill="#a82cbc" font-weight="bold" text-anchor="start" transform="rotate(90 319.66 203.20)" stroke="#a82cbc" stroke-width="0.3">FL2</text>
<text x="329.74" y="203.20" font-size="6.7" fill="#a82cbc" font-weight="bold" text-anchor="start" transform="rotate(90 329.74 203.20)" stroke="#a82cbc" stroke-width="0.3">FL5</text>
<text x="339.82" y="203.20" font-size="6.7" fill="#a82cbc" font-weight="bold" text-anchor="start" transform="rotate(90 339.82 203.20)" stroke="#a82cbc" stroke-width="0.3">FL1</text>
<text x="349.90" y="203.20" font-size="6.7" fill="#a82cbc" font-weight="bold" text-anchor="start" transform="rotate(90 349.90 203.20)" stroke="#a82cbc" stroke-width="0.3">FL6</text>
<text x="359.98" y="203.20" font-size="6.7" fill="#a82cbc" font-weight="bold" text-anchor="start" transform="rotate(90 359.98 203.20)" stroke="#a82cbc" stroke-width="0.3">FL7</text>
<text x="370.06" y="203.20" font-size="6.7" fill="#a82cbc" font-weight="bold" text-anchor="start" transform="rotate(90 370.06 203.20)" stroke="#a82cbc" stroke-width="0.3">FL9</text>
<text x="380.14" y="203.20" font-size="6.7" fill="#a82cbc" font-weight="bold" text-anchor="start" transform="rotate(90 380.14 203.20)" stroke="#a82cbc" stroke-width="0.3">FL10</text>
<text x="390.22" y="203.20" font-size="6.7" fill="#a82cbc" font-weight="bold" text-anchor="start" transform="rotate(90 390.22 203.20)" stroke="#a82cbc" stroke-width="0.3">FL12</text>
<text x="400.30" y="203.20" font-size="6.7" fill="#a82cbc" font-weight="bold" text-anchor="start" transform="rotate(90 400.30 203.20)" stroke="#a82cbc" stroke-width="0.3">FL11</text>
<text x="2.80" y="232.70" font-size="16.5" fill="#000" font-weight="bold" text-anchor="start">B</text>
<defs><linearGradient id="cb240" x1="0" y1="0" x2="0" y2="1"><stop offset="0.0000" stop-color="#ffff00"/><stop offset="0.0625" stop-color="#eded00"/><stop offset="0.1250" stop-color="#d0d000"/><stop offset="0.1875" stop-color="#b2b200"/><stop offset="0.2500" stop-color="#939300"/><stop offset="0.3125" stop-color="#737300"/><stop offset="0.3750" stop-color="#525200"/><stop offset="0.4375" stop-color="#2d2d00"/><stop offset="0.5000" stop-color="#000000"/><stop offset="0.5625" stop-color="#002323"/><stop offset="0.6250" stop-color="#004646"/><stop offset="0.6875" stop-color="#006969"/><stop offset="0.7500" stop-color="#008c8c"/><stop offset="0.8125" stop-color="#00afaf"/><stop offset="0.8750" stop-color="#00d2d2"/><stop offset="0.9375" stop-color="#00f5f5"/><stop offset="1.0000" stop-color="#00ffff"/></linearGradient></defs>
<rect x="32.3" y="240.3" width="9.0" height="66.09999999999997" fill="url(#cb240)" stroke="#222" stroke-width="1"/>
<text x="30.00" y="245.30" font-size="8.5" fill="#222" font-weight="normal" text-anchor="end">2</text>
<text x="30.00" y="261.00" font-size="8.5" fill="#222" font-weight="normal" text-anchor="end">1</text>
<text x="30.00" y="277.00" font-size="8.5" fill="#222" font-weight="normal" text-anchor="end">0</text>
<text x="30.00" y="293.50" font-size="8.5" fill="#222" font-weight="normal" text-anchor="end">-1</text>
<text x="30.00" y="310.20" font-size="8.5" fill="#222" font-weight="normal" text-anchor="end">-2</text>
<g shape-rendering="crispEdges">
<rect x="75.00" y="285.60" width="10.14" height="10.03" fill="#525200"/>
<rect x="75.00" y="295.58" width="10.14" height="10.03" fill="#353500"/>
<rect x="75.00" y="305.56" width="10.14" height="10.03" fill="#353500"/>
<rect x="75.00" y="315.54" width="10.14" height="10.03" fill="#003f3f"/>
<rect x="75.00" y="325.52" width="10.14" height="10.03" fill="#444400"/>
<rect x="75.00" y="335.50" width="10.14" height="10.03" fill="#3c3c00"/>
<rect x="75.00" y="345.48" width="10.14" height="10.03" fill="#00a1a1"/>
<rect x="75.00" y="355.46" width="10.14" height="10.03" fill="#00eeee"/>
<rect x="75.00" y="365.44" width="10.14" height="10.03" fill="#353500"/>
<rect x="75.00" y="375.42" width="10.14" height="10.03" fill="#000000"/>
<rect x="75.00" y="385.40" width="10.14" height="10.03" fill="#000000"/>
<rect x="75.00" y="395.38" width="10.14" height="10.03" fill="#7a7a00"/>
<rect x="75.00" y="405.36" width="10.14" height="10.03" fill="#b8b800"/>
<rect x="85.09" y="285.60" width="10.14" height="10.03" fill="#808000"/>
<rect x="85.09" y="295.58" width="10.14" height="10.03" fill="#7a7a00"/>
<rect x="85.09" y="305.56" width="10.14" height="10.03" fill="#525200"/>
<rect x="85.09" y="315.54" width="10.14" height="10.03" fill="#000000"/>
<rect x="85.09" y="325.52" width="10.14" height="10.03" fill="#525200"/>
<rect x="85.09" y="335.50" width="10.14" height="10.03" fill="#7a7a00"/>
<rect x="85.09" y="345.48" width="10.14" height="10.03" fill="#007070"/>
<rect x="85.09" y="355.46" width="10.14" height="10.03" fill="#00e7e7"/>
<rect x="85.09" y="365.44" width="10.14" height="10.03" fill="#004646"/>
<rect x="85.09" y="375.42" width="10.14" height="10.03" fill="#525200"/>
<rect x="85.09" y="385.40" width="10.14" height="10.03" fill="#003838"/>
<rect x="85.09" y="395.38" width="10.14" height="10.03" fill="#6d6d00"/>
<rect x="85.09" y="405.36" width="10.14" height="10.03" fill="#bebe00"/>
<rect x="95.18" y="285.60" width="10.14" height="10.03" fill="#4b4b00"/>
<rect x="95.18" y="295.58" width="10.14" height="10.03" fill="#353500"/>
<rect x="95.18" y="305.56" width="10.14" height="10.03" fill="#8d8d00"/>
<rect x="95.18" y="315.54" width="10.14" height="10.03" fill="#005454"/>
<rect x="95.18" y="325.52" width="10.14" height="10.03" fill="#003838"/>
<rect x="95.18" y="335.50" width="10.14" height="10.03" fill="#007e7e"/>
<rect x="95.18" y="345.48" width="10.14" height="10.03" fill="#003131"/>
<rect x="95.18" y="355.46" width="10.14" height="10.03" fill="#004646"/>
<rect x="95.18" y="365.44" width="10.14" height="10.03" fill="#262600"/>
<rect x="95.18" y="375.42" width="10.14" height="10.03" fill="#9a9a00"/>
<rect x="95.18" y="385.40" width="10.14" height="10.03" fill="#000000"/>
<rect x="95.18" y="395.38" width="10.14" height="10.03" fill="#525200"/>
<rect x="95.18" y="405.36" width="10.14" height="10.03" fill="#606000"/>
<rect x="105.27" y="285.60" width="10.14" height="10.03" fill="#3c3c00"/>
<rect x="105.27" y="295.58" width="10.14" height="10.03" fill="#001515"/>
<rect x="105.27" y="305.56" width="10.14" height="10.03" fill="#000707"/>
<rect x="105.27" y="315.54" width="10.14" height="10.03" fill="#003f3f"/>
<rect x="105.27" y="325.52" width="10.14" height="10.03" fill="#006262"/>
<rect x="105.27" y="335.50" width="10.14" height="10.03" fill="#004646"/>
<rect x="105.27" y="345.48" width="10.14" height="10.03" fill="#003838"/>
<rect x="105.27" y="355.46" width="10.14" height="10.03" fill="#008c8c"/>
<rect x="105.27" y="365.44" width="10.14" height="10.03" fill="#606000"/>
<rect x="105.27" y="375.42" width="10.14" height="10.03" fill="#4b4b00"/>
<rect x="105.27" y="385.40" width="10.14" height="10.03" fill="#262600"/>
<rect x="105.27" y="395.38" width="10.14" height="10.03" fill="#525200"/>
<rect x="105.27" y="405.36" width="10.14" height="10.03" fill="#acac00"/>
<rect x="115.36" y="285.60" width="10.14" height="10.03" fill="#b2b200"/>
<rect x="115.36" y="295.58" width="10.14" height="10.03" fill="#939300"/>
<rect x="115.36" y="305.56" width="10.14" height="10.03" fill="#b8b800"/>
<rect x="115.36" y="315.54" width="10.14" height="10.03" fill="#003131"/>
<rect x="115.36" y="325.52" width="10.14" height="10.03" fill="#2d2d00"/>
<rect x="115.36" y="335.50" width="10.14" height="10.03" fill="#525200"/>
<rect x="115.36" y="345.48" width="10.14" height="10.03" fill="#003838"/>
<rect x="115.36" y="355.46" width="10.14" height="10.03" fill="#003131"/>
<rect x="115.36" y="365.44" width="10.14" height="10.03" fill="#525200"/>
<rect x="115.36" y="375.42" width="10.14" height="10.03" fill="#009393"/>
<rect x="115.36" y="385.40" width="10.14" height="10.03" fill="#00afaf"/>
<rect x="115.36" y="395.38" width="10.14" height="10.03" fill="#3c3c00"/>
<rect x="115.36" y="405.36" width="10.14" height="10.03" fill="#3c3c00"/>
<rect x="125.45" y="285.60" width="10.14" height="10.03" fill="#bebe00"/>
<rect x="125.45" y="295.58" width="10.14" height="10.03" fill="#a0a000"/>
<rect x="125.45" y="305.56" width="10.14" height="10.03" fill="#b8b800"/>
<rect x="125.45" y="315.54" width="10.14" height="10.03" fill="#004646"/>
<rect x="125.45" y="325.52" width="10.14" height="10.03" fill="#a6a600"/>
<rect x="125.45" y="335.50" width="10.14" height="10.03" fill="#595900"/>
<rect x="125.45" y="345.48" width="10.14" height="10.03" fill="#007070"/>
<rect x="125.45" y="355.46" width="10.14" height="10.03" fill="#00a1a1"/>
<rect x="125.45" y="365.44" width="10.14" height="10.03" fill="#007070"/>
<rect x="125.45" y="375.42" width="10.14" height="10.03" fill="#004646"/>
<rect x="125.45" y="385.40" width="10.14" height="10.03" fill="#00c4c4"/>
<rect x="125.45" y="395.38" width="10.14" height="10.03" fill="#606000"/>
<rect x="125.45" y="405.36" width="10.14" height="10.03" fill="#bebe00"/>
<rect x="135.54" y="285.60" width="10.14" height="10.03" fill="#444400"/>
<rect x="135.54" y="295.58" width="10.14" height="10.03" fill="#444400"/>
<rect x="135.54" y="305.56" width="10.14" height="10.03" fill="#1d1d00"/>
<rect x="135.54" y="315.54" width="10.14" height="10.03" fill="#000e0e"/>
<rect x="135.54" y="325.52" width="10.14" height="10.03" fill="#878700"/>
<rect x="135.54" y="335.50" width="10.14" height="10.03" fill="#878700"/>
<rect x="135.54" y="345.48" width="10.14" height="10.03" fill="#007070"/>
<rect x="135.54" y="355.46" width="10.14" height="10.03" fill="#002a2a"/>
<rect x="135.54" y="365.44" width="10.14" height="10.03" fill="#00b6b6"/>
<rect x="135.54" y="375.42" width="10.14" height="10.03" fill="#2d2d00"/>
<rect x="135.54" y="385.40" width="10.14" height="10.03" fill="#262600"/>
<rect x="135.54" y="395.38" width="10.14" height="10.03" fill="#606000"/>
<rect x="135.54" y="405.36" width="10.14" height="10.03" fill="#444400"/>
<rect x="145.63" y="285.60" width="10.14" height="10.03" fill="#00ffff"/>
<rect x="145.63" y="295.58" width="10.14" height="10.03" fill="#00a1a1"/>
<rect x="145.63" y="305.56" width="10.14" height="10.03" fill="#009a9a"/>
<rect x="145.63" y="315.54" width="10.14" height="10.03" fill="#00eeee"/>
<rect x="145.63" y="325.52" width="10.14" height="10.03" fill="#939300"/>
<rect x="145.63" y="335.50" width="10.14" height="10.03" fill="#b8b800"/>
<rect x="145.63" y="345.48" width="10.14" height="10.03" fill="#008c8c"/>
<rect x="145.63" y="355.46" width="10.14" height="10.03" fill="#000000"/>
<rect x="145.63" y="365.44" width="10.14" height="10.03" fill="#00bdbd"/>
<rect x="145.63" y="375.42" width="10.14" height="10.03" fill="#000707"/>
<rect x="145.63" y="385.40" width="10.14" height="10.03" fill="#a0a000"/>
<rect x="145.63" y="395.38" width="10.14" height="10.03" fill="#6d6d00"/>
<rect x="145.63" y="405.36" width="10.14" height="10.03" fill="#1d1d00"/>
<rect x="155.72" y="285.60" width="10.14" height="10.03" fill="#00fcfc"/>
<rect x="155.72" y="295.58" width="10.14" height="10.03" fill="#00f5f5"/>
<rect x="155.72" y="305.56" width="10.14" height="10.03" fill="#008c8c"/>
<rect x="155.72" y="315.54" width="10.14" height="10.03" fill="#003f3f"/>
<rect x="155.72" y="325.52" width="10.14" height="10.03" fill="#939300"/>
<rect x="155.72" y="335.50" width="10.14" height="10.03" fill="#6d6d00"/>
<rect x="155.72" y="345.48" width="10.14" height="10.03" fill="#007777"/>
<rect x="155.72" y="355.46" width="10.14" height="10.03" fill="#009393"/>
<rect x="155.72" y="365.44" width="10.14" height="10.03" fill="#00d2d2"/>
<rect x="155.72" y="375.42" width="10.14" height="10.03" fill="#000000"/>
<rect x="155.72" y="385.40" width="10.14" height="10.03" fill="#8d8d00"/>
<rect x="155.72" y="395.38" width="10.14" height="10.03" fill="#595900"/>
<rect x="155.72" y="405.36" width="10.14" height="10.03" fill="#8d8d00"/>
<rect x="165.81" y="285.60" width="10.14" height="10.03" fill="#595900"/>
<rect x="165.81" y="295.58" width="10.14" height="10.03" fill="#939300"/>
<rect x="165.81" y="305.56" width="10.14" height="10.03" fill="#3c3c00"/>
<rect x="165.81" y="315.54" width="10.14" height="10.03" fill="#000e0e"/>
<rect x="165.81" y="325.52" width="10.14" height="10.03" fill="#353500"/>
<rect x="165.81" y="335.50" width="10.14" height="10.03" fill="#7a7a00"/>
<rect x="165.81" y="345.48" width="10.14" height="10.03" fill="#c4c400"/>
<rect x="165.81" y="355.46" width="10.14" height="10.03" fill="#6d6d00"/>
<rect x="165.81" y="365.44" width="10.14" height="10.03" fill="#003838"/>
<rect x="165.81" y="375.42" width="10.14" height="10.03" fill="#4b4b00"/>
<rect x="165.81" y="385.40" width="10.14" height="10.03" fill="#000000"/>
<rect x="165.81" y="395.38" width="10.14" height="10.03" fill="#009a9a"/>
<rect x="165.81" y="405.36" width="10.14" height="10.03" fill="#007777"/>
<rect x="175.90" y="285.60" width="10.14" height="10.03" fill="#000000"/>
<rect x="175.90" y="295.58" width="10.14" height="10.03" fill="#000000"/>
<rect x="175.90" y="305.56" width="10.14" height="10.03" fill="#004646"/>
<rect x="175.90" y="315.54" width="10.14" height="10.03" fill="#2d2d00"/>
<rect x="175.90" y="325.52" width="10.14" height="10.03" fill="#3c3c00"/>
<rect x="175.90" y="335.50" width="10.14" height="10.03" fill="#808000"/>
<rect x="175.90" y="345.48" width="10.14" height="10.03" fill="#7a7a00"/>
<rect x="175.90" y="355.46" width="10.14" height="10.03" fill="#000707"/>
<rect x="175.90" y="365.44" width="10.14" height="10.03" fill="#004646"/>
<rect x="175.90" y="375.42" width="10.14" height="10.03" fill="#737300"/>
<rect x="175.90" y="385.40" width="10.14" height="10.03" fill="#3c3c00"/>
<rect x="175.90" y="395.38" width="10.14" height="10.03" fill="#003838"/>
<rect x="175.90" y="405.36" width="10.14" height="10.03" fill="#1d1d00"/>
<rect x="185.99" y="285.60" width="10.14" height="10.03" fill="#000e0e"/>
<rect x="185.99" y="295.58" width="10.14" height="10.03" fill="#000707"/>
<rect x="185.99" y="305.56" width="10.14" height="10.03" fill="#004d4d"/>
<rect x="185.99" y="315.54" width="10.14" height="10.03" fill="#444400"/>
<rect x="185.99" y="325.52" width="10.14" height="10.03" fill="#7a7a00"/>
<rect x="185.99" y="335.50" width="10.14" height="10.03" fill="#7a7a00"/>
<rect x="185.99" y="345.48" width="10.14" height="10.03" fill="#525200"/>
<rect x="185.99" y="355.46" width="10.14" height="10.03" fill="#b2b200"/>
<rect x="185.99" y="365.44" width="10.14" height="10.03" fill="#004d4d"/>
<rect x="185.99" y="375.42" width="10.14" height="10.03" fill="#005454"/>
<rect x="185.99" y="385.40" width="10.14" height="10.03" fill="#3c3c00"/>
<rect x="185.99" y="395.38" width="10.14" height="10.03" fill="#003838"/>
<rect x="185.99" y="405.36" width="10.14" height="10.03" fill="#00c4c4"/>
<rect x="196.08" y="285.60" width="10.14" height="10.03" fill="#0c0c00"/>
<rect x="196.08" y="295.58" width="10.14" height="10.03" fill="#000000"/>
<rect x="196.08" y="305.56" width="10.14" height="10.03" fill="#002a2a"/>
<rect x="196.08" y="315.54" width="10.14" height="10.03" fill="#3c3c00"/>
<rect x="196.08" y="325.52" width="10.14" height="10.03" fill="#003838"/>
<rect x="196.08" y="335.50" width="10.14" height="10.03" fill="#001c1c"/>
<rect x="196.08" y="345.48" width="10.14" height="10.03" fill="#7a7a00"/>
<rect x="196.08" y="355.46" width="10.14" height="10.03" fill="#595900"/>
<rect x="196.08" y="365.44" width="10.14" height="10.03" fill="#595900"/>
<rect x="196.08" y="375.42" width="10.14" height="10.03" fill="#6d6d00"/>
<rect x="196.08" y="385.40" width="10.14" height="10.03" fill="#2d2d00"/>
<rect x="196.08" y="395.38" width="10.14" height="10.03" fill="#004646"/>
<rect x="196.08" y="405.36" width="10.14" height="10.03" fill="#004646"/>
<rect x="206.17" y="285.60" width="10.14" height="10.03" fill="#353500"/>
<rect x="206.17" y="295.58" width="10.14" height="10.03" fill="#1d1d00"/>
<rect x="206.17" y="305.56" width="10.14" height="10.03" fill="#353500"/>
<rect x="206.17" y="315.54" width="10.14" height="10.03" fill="#003131"/>
<rect x="206.17" y="325.52" width="10.14" height="10.03" fill="#003f3f"/>
<rect x="206.17" y="335.50" width="10.14" height="10.03" fill="#003f3f"/>
<rect x="206.17" y="345.48" width="10.14" height="10.03" fill="#3c3c00"/>
<rect x="206.17" y="355.46" width="10.14" height="10.03" fill="#7a7a00"/>
<rect x="206.17" y="365.44" width="10.14" height="10.03" fill="#7a7a00"/>
<rect x="206.17" y="375.42" width="10.14" height="10.03" fill="#004646"/>
<rect x="206.17" y="385.40" width="10.14" height="10.03" fill="#1d1d00"/>
<rect x="206.17" y="395.38" width="10.14" height="10.03" fill="#000e0e"/>
<rect x="206.17" y="405.36" width="10.14" height="10.03" fill="#007e7e"/>
<rect x="216.26" y="285.60" width="10.14" height="10.03" fill="#007070"/>
<rect x="216.26" y="295.58" width="10.14" height="10.03" fill="#00a1a1"/>
<rect x="216.26" y="305.56" width="10.14" height="10.03" fill="#00a1a1"/>
<rect x="216.26" y="315.54" width="10.14" height="10.03" fill="#003838"/>
<rect x="216.26" y="325.52" width="10.14" height="10.03" fill="#0c0c00"/>
<rect x="216.26" y="335.50" width="10.14" height="10.03" fill="#006262"/>
<rect x="216.26" y="345.48" width="10.14" height="10.03" fill="#c4c400"/>
<rect x="216.26" y="355.46" width="10.14" height="10.03" fill="#7a7a00"/>
<rect x="216.26" y="365.44" width="10.14" height="10.03" fill="#003131"/>
<rect x="216.26" y="375.42" width="10.14" height="10.03" fill="#6d6d00"/>
<rect x="216.26" y="385.40" width="10.14" height="10.03" fill="#6d6d00"/>
<rect x="216.26" y="395.38" width="10.14" height="10.03" fill="#00a8a8"/>
<rect x="216.26" y="405.36" width="10.14" height="10.03" fill="#006969"/>
<rect x="226.35" y="285.60" width="10.14" height="10.03" fill="#262600"/>
<rect x="226.35" y="295.58" width="10.14" height="10.03" fill="#000707"/>
<rect x="226.35" y="305.56" width="10.14" height="10.03" fill="#004646"/>
<rect x="226.35" y="315.54" width="10.14" height="10.03" fill="#3c3c00"/>
<rect x="226.35" y="325.52" width="10.14" height="10.03" fill="#00a1a1"/>
<rect x="226.35" y="335.50" width="10.14" height="10.03" fill="#008585"/>
<rect x="226.35" y="345.48" width="10.14" height="10.03" fill="#6d6d00"/>
<rect x="226.35" y="355.46" width="10.14" height="10.03" fill="#003131"/>
<rect x="226.35" y="365.44" width="10.14" height="10.03" fill="#9a9a00"/>
<rect x="226.35" y="375.42" width="10.14" height="10.03" fill="#606000"/>
<rect x="226.35" y="385.40" width="10.14" height="10.03" fill="#2d2d00"/>
<rect x="226.35" y="395.38" width="10.14" height="10.03" fill="#003131"/>
<rect x="226.35" y="405.36" width="10.14" height="10.03" fill="#444400"/>
<rect x="236.44" y="285.60" width="10.14" height="10.03" fill="#000000"/>
<rect x="236.44" y="295.58" width="10.14" height="10.03" fill="#004d4d"/>
<rect x="236.44" y="305.56" width="10.14" height="10.03" fill="#005454"/>
<rect x="236.44" y="315.54" width="10.14" height="10.03" fill="#353500"/>
<rect x="236.44" y="325.52" width="10.14" height="10.03" fill="#00b6b6"/>
<rect x="236.44" y="335.50" width="10.14" height="10.03" fill="#00afaf"/>
<rect x="236.44" y="345.48" width="10.14" height="10.03" fill="#b2b200"/>
<rect x="236.44" y="355.46" width="10.14" height="10.03" fill="#3c3c00"/>
<rect x="236.44" y="365.44" width="10.14" height="10.03" fill="#a0a000"/>
<rect x="236.44" y="375.42" width="10.14" height="10.03" fill="#7a7a00"/>
<rect x="236.44" y="385.40" width="10.14" height="10.03" fill="#2d2d00"/>
<rect x="236.44" y="395.38" width="10.14" height="10.03" fill="#007777"/>
<rect x="236.44" y="405.36" width="10.14" height="10.03" fill="#003838"/>
<rect x="246.53" y="285.60" width="10.14" height="10.03" fill="#002a2a"/>
<rect x="246.53" y="295.58" width="10.14" height="10.03" fill="#005454"/>
<rect x="246.53" y="305.56" width="10.14" height="10.03" fill="#006262"/>
<rect x="246.53" y="315.54" width="10.14" height="10.03" fill="#8d8d00"/>
<rect x="246.53" y="325.52" width="10.14" height="10.03" fill="#00ffff"/>
<rect x="246.53" y="335.50" width="10.14" height="10.03" fill="#00d9d9"/>
<rect x="246.53" y="345.48" width="10.14" height="10.03" fill="#353500"/>
<rect x="246.53" y="355.46" width="10.14" height="10.03" fill="#008c8c"/>
<rect x="246.53" y="365.44" width="10.14" height="10.03" fill="#bebe00"/>
<rect x="246.53" y="375.42" width="10.14" height="10.03" fill="#737300"/>
<rect x="246.53" y="385.40" width="10.14" height="10.03" fill="#2d2d00"/>
<rect x="246.53" y="395.38" width="10.14" height="10.03" fill="#000e0e"/>
<rect x="246.53" y="405.36" width="10.14" height="10.03" fill="#9a9a00"/>
<rect x="256.62" y="285.60" width="10.14" height="10.03" fill="#004646"/>
<rect x="256.62" y="295.58" width="10.14" height="10.03" fill="#005454"/>
<rect x="256.62" y="305.56" width="10.14" height="10.03" fill="#003838"/>
<rect x="256.62" y="315.54" width="10.14" height="10.03" fill="#003838"/>
<rect x="256.62" y="325.52" width="10.14" height="10.03" fill="#525200"/>
<rect x="256.62" y="335.50" width="10.14" height="10.03" fill="#008c8c"/>
<rect x="256.62" y="345.48" width="10.14" height="10.03" fill="#00b6b6"/>
<rect x="256.62" y="355.46" width="10.14" height="10.03" fill="#606000"/>
<rect x="256.62" y="365.44" width="10.14" height="10.03" fill="#002a2a"/>
<rect x="256.62" y="375.42" width="10.14" height="10.03" fill="#353500"/>
<rect x="256.62" y="385.40" width="10.14" height="10.03" fill="#878700"/>
<rect x="256.62" y="395.38" width="10.14" height="10.03" fill="#878700"/>
<rect x="256.62" y="405.36" width="10.14" height="10.03" fill="#004646"/>
<rect x="266.71" y="285.60" width="10.14" height="10.03" fill="#007e7e"/>
<rect x="266.71" y="295.58" width="10.14" height="10.03" fill="#004646"/>
<rect x="266.71" y="305.56" width="10.14" height="10.03" fill="#006262"/>
<rect x="266.71" y="315.54" width="10.14" height="10.03" fill="#005454"/>
<rect x="266.71" y="325.52" width="10.14" height="10.03" fill="#525200"/>
<rect x="266.71" y="335.50" width="10.14" height="10.03" fill="#007070"/>
<rect x="266.71" y="345.48" width="10.14" height="10.03" fill="#007070"/>
<rect x="266.71" y="355.46" width="10.14" height="10.03" fill="#003838"/>
<rect x="266.71" y="365.44" width="10.14" height="10.03" fill="#003838"/>
<rect x="266.71" y="375.42" width="10.14" height="10.03" fill="#6d6d00"/>
<rect x="266.71" y="385.40" width="10.14" height="10.03" fill="#939300"/>
<rect x="266.71" y="395.38" width="10.14" height="10.03" fill="#7a7a00"/>
<rect x="266.71" y="405.36" width="10.14" height="10.03" fill="#606000"/>
<rect x="276.80" y="285.60" width="10.14" height="10.03" fill="#007e7e"/>
<rect x="276.80" y="295.58" width="10.14" height="10.03" fill="#00a8a8"/>
<rect x="276.80" y="305.56" width="10.14" height="10.03" fill="#004646"/>
<rect x="276.80" y="315.54" width="10.14" height="10.03" fill="#005454"/>
<rect x="276.80" y="325.52" width="10.14" height="10.03" fill="#001c1c"/>
<rect x="276.80" y="335.50" width="10.14" height="10.03" fill="#003838"/>
<rect x="276.80" y="345.48" width="10.14" height="10.03" fill="#004646"/>
<rect x="276.80" y="355.46" width="10.14" height="10.03" fill="#444400"/>
<rect x="276.80" y="365.44" width="10.14" height="10.03" fill="#353500"/>
<rect x="276.80" y="375.42" width="10.14" height="10.03" fill="#acac00"/>
<rect x="276.80" y="385.40" width="10.14" height="10.03" fill="#939300"/>
<rect x="276.80" y="395.38" width="10.14" height="10.03" fill="#606000"/>
<rect x="276.80" y="405.36" width="10.14" height="10.03" fill="#004646"/>
<rect x="286.89" y="285.60" width="10.14" height="10.03" fill="#007e7e"/>
<rect x="286.89" y="295.58" width="10.14" height="10.03" fill="#007070"/>
<rect x="286.89" y="305.56" width="10.14" height="10.03" fill="#00c4c4"/>
<rect x="286.89" y="315.54" width="10.14" height="10.03" fill="#002a2a"/>
<rect x="286.89" y="325.52" width="10.14" height="10.03" fill="#006262"/>
<rect x="286.89" y="335.50" width="10.14" height="10.03" fill="#001c1c"/>
<rect x="286.89" y="345.48" width="10.14" height="10.03" fill="#001c1c"/>
<rect x="286.89" y="355.46" width="10.14" height="10.03" fill="#001c1c"/>
<rect x="286.89" y="365.44" width="10.14" height="10.03" fill="#7a7a00"/>
<rect x="286.89" y="375.42" width="10.14" height="10.03" fill="#002a2a"/>
<rect x="286.89" y="385.40" width="10.14" height="10.03" fill="#878700"/>
<rect x="286.89" y="395.38" width="10.14" height="10.03" fill="#444400"/>
<rect x="286.89" y="405.36" width="10.14" height="10.03" fill="#444400"/>
<rect x="296.98" y="285.60" width="10.14" height="10.03" fill="#00fcfc"/>
<rect x="296.98" y="295.58" width="10.14" height="10.03" fill="#00ffff"/>
<rect x="296.98" y="305.56" width="10.14" height="10.03" fill="#00fcfc"/>
<rect x="296.98" y="315.54" width="10.14" height="10.03" fill="#353500"/>
<rect x="296.98" y="325.52" width="10.14" height="10.03" fill="#262600"/>
<rect x="296.98" y="335.50" width="10.14" height="10.03" fill="#004646"/>
<rect x="296.98" y="345.48" width="10.14" height="10.03" fill="#004646"/>
<rect x="296.98" y="355.46" width="10.14" height="10.03" fill="#007070"/>
<rect x="296.98" y="365.44" width="10.14" height="10.03" fill="#262600"/>
<rect x="296.98" y="375.42" width="10.14" height="10.03" fill="#444400"/>
<rect x="296.98" y="385.40" width="10.14" height="10.03" fill="#878700"/>
<rect x="296.98" y="395.38" width="10.14" height="10.03" fill="#444400"/>
<rect x="296.98" y="405.36" width="10.14" height="10.03" fill="#7a7a00"/>
<rect x="307.07" y="285.60" width="10.14" height="10.03" fill="#008c8c"/>
<rect x="307.07" y="295.58" width="10.14" height="10.03" fill="#009a9a"/>
<rect x="307.07" y="305.56" width="10.14" height="10.03" fill="#007e7e"/>
<rect x="307.07" y="315.54" width="10.14" height="10.03" fill="#00ffff"/>
<rect x="307.07" y="325.52" width="10.14" height="10.03" fill="#007e7e"/>
<rect x="307.07" y="335.50" width="10.14" height="10.03" fill="#00d2d2"/>
<rect x="307.07" y="345.48" width="10.14" height="10.03" fill="#000e0e"/>
<rect x="307.07" y="355.46" width="10.14" height="10.03" fill="#000000"/>
<rect x="307.07" y="365.44" width="10.14" height="10.03" fill="#acac00"/>
<rect x="307.07" y="375.42" width="10.14" height="10.03" fill="#002a2a"/>
<rect x="307.07" y="385.40" width="10.14" height="10.03" fill="#a0a000"/>
<rect x="307.07" y="395.38" width="10.14" height="10.03" fill="#353500"/>
<rect x="307.07" y="405.36" width="10.14" height="10.03" fill="#151500"/>
<rect x="317.16" y="285.60" width="10.14" height="10.03" fill="#00b6b6"/>
<rect x="317.16" y="295.58" width="10.14" height="10.03" fill="#008c8c"/>
<rect x="317.16" y="305.56" width="10.14" height="10.03" fill="#009a9a"/>
<rect x="317.16" y="315.54" width="10.14" height="10.03" fill="#00fcfc"/>
<rect x="317.16" y="325.52" width="10.14" height="10.03" fill="#00e0e0"/>
<rect x="317.16" y="335.50" width="10.14" height="10.03" fill="#005454"/>
<rect x="317.16" y="345.48" width="10.14" height="10.03" fill="#000000"/>
<rect x="317.16" y="355.46" width="10.14" height="10.03" fill="#606000"/>
<rect x="317.16" y="365.44" width="10.14" height="10.03" fill="#acac00"/>
<rect x="317.16" y="375.42" width="10.14" height="10.03" fill="#7a7a00"/>
<rect x="317.16" y="385.40" width="10.14" height="10.03" fill="#a0a000"/>
<rect x="317.16" y="395.38" width="10.14" height="10.03" fill="#262600"/>
<rect x="317.16" y="405.36" width="10.14" height="10.03" fill="#003838"/>
<rect x="327.25" y="285.60" width="10.14" height="10.03" fill="#444400"/>
<rect x="327.25" y="295.58" width="10.14" height="10.03" fill="#004646"/>
<rect x="327.25" y="305.56" width="10.14" height="10.03" fill="#444400"/>
<rect x="327.25" y="315.54" width="10.14" height="10.03" fill="#151500"/>
<rect x="327.25" y="325.52" width="10.14" height="10.03" fill="#00fcfc"/>
<rect x="327.25" y="335.50" width="10.14" height="10.03" fill="#00fcfc"/>
<rect x="327.25" y="345.48" width="10.14" height="10.03" fill="#00fcfc"/>
<rect x="327.25" y="355.46" width="10.14" height="10.03" fill="#00fcfc"/>
<rect x="327.25" y="365.44" width="10.14" height="10.03" fill="#939300"/>
<rect x="327.25" y="375.42" width="10.14" height="10.03" fill="#004646"/>
<rect x="327.25" y="385.40" width="10.14" height="10.03" fill="#000000"/>
<rect x="327.25" y="395.38" width="10.14" height="10.03" fill="#7a7a00"/>
<rect x="327.25" y="405.36" width="10.14" height="10.03" fill="#d0d000"/>
<rect x="337.34" y="285.60" width="10.14" height="10.03" fill="#878700"/>
<rect x="337.34" y="295.58" width="10.14" height="10.03" fill="#e8e800"/>
<rect x="337.34" y="305.56" width="10.14" height="10.03" fill="#d0d000"/>
<rect x="337.34" y="315.54" width="10.14" height="10.03" fill="#fefe00"/>
<rect x="337.34" y="325.52" width="10.14" height="10.03" fill="#353500"/>
<rect x="337.34" y="335.50" width="10.14" height="10.03" fill="#7a7a00"/>
<rect x="337.34" y="345.48" width="10.14" height="10.03" fill="#7a7a00"/>
<rect x="337.34" y="355.46" width="10.14" height="10.03" fill="#353500"/>
<rect x="337.34" y="365.44" width="10.14" height="10.03" fill="#003838"/>
<rect x="337.34" y="375.42" width="10.14" height="10.03" fill="#008c8c"/>
<rect x="337.34" y="385.40" width="10.14" height="10.03" fill="#00eeee"/>
<rect x="337.34" y="395.38" width="10.14" height="10.03" fill="#005454"/>
<rect x="337.34" y="405.36" width="10.14" height="10.03" fill="#001c1c"/>
<rect x="347.43" y="285.60" width="10.14" height="10.03" fill="#002a2a"/>
<rect x="347.43" y="295.58" width="10.14" height="10.03" fill="#353500"/>
<rect x="347.43" y="305.56" width="10.14" height="10.03" fill="#b8b800"/>
<rect x="347.43" y="315.54" width="10.14" height="10.03" fill="#f3f300"/>
<rect x="347.43" y="325.52" width="10.14" height="10.03" fill="#525200"/>
<rect x="347.43" y="335.50" width="10.14" height="10.03" fill="#7a7a00"/>
<rect x="347.43" y="345.48" width="10.14" height="10.03" fill="#008c8c"/>
<rect x="347.43" y="355.46" width="10.14" height="10.03" fill="#000000"/>
<rect x="347.43" y="365.44" width="10.14" height="10.03" fill="#004646"/>
<rect x="347.43" y="375.42" width="10.14" height="10.03" fill="#353500"/>
<rect x="347.43" y="385.40" width="10.14" height="10.03" fill="#00eeee"/>
<rect x="347.43" y="395.38" width="10.14" height="10.03" fill="#525200"/>
<rect x="347.43" y="405.36" width="10.14" height="10.03" fill="#000000"/>
<rect x="357.52" y="285.60" width="10.14" height="10.03" fill="#878700"/>
<rect x="357.52" y="295.58" width="10.14" height="10.03" fill="#acac00"/>
<rect x="357.52" y="305.56" width="10.14" height="10.03" fill="#b8b800"/>
<rect x="357.52" y="315.54" width="10.14" height="10.03" fill="#7a7a00"/>
<rect x="357.52" y="325.52" width="10.14" height="10.03" fill="#000e0e"/>
<rect x="357.52" y="335.50" width="10.14" height="10.03" fill="#00b6b6"/>
<rect x="357.52" y="345.48" width="10.14" height="10.03" fill="#353500"/>
<rect x="357.52" y="355.46" width="10.14" height="10.03" fill="#939300"/>
<rect x="357.52" y="365.44" width="10.14" height="10.03" fill="#353500"/>
<rect x="357.52" y="375.42" width="10.14" height="10.03" fill="#444400"/>
<rect x="357.52" y="385.40" width="10.14" height="10.03" fill="#009a9a"/>
<rect x="357.52" y="395.38" width="10.14" height="10.03" fill="#000000"/>
<rect x="357.52" y="405.36" width="10.14" height="10.03" fill="#009a9a"/>
<rect x="367.61" y="285.60" width="10.14" height="10.03" fill="#7a7a00"/>
<rect x="367.61" y="295.58" width="10.14" height="10.03" fill="#7a7a00"/>
<rect x="367.61" y="305.56" width="10.14" height="10.03" fill="#7a7a00"/>
<rect x="367.61" y="315.54" width="10.14" height="10.03" fill="#525200"/>
<rect x="367.61" y="325.52" width="10.14" height="10.03" fill="#878700"/>
<rect x="367.61" y="335.50" width="10.14" height="10.03" fill="#6d6d00"/>
<rect x="367.61" y="345.48" width="10.14" height="10.03" fill="#444400"/>
<rect x="367.61" y="355.46" width="10.14" height="10.03" fill="#878700"/>
<rect x="367.61" y="365.44" width="10.14" height="10.03" fill="#007e7e"/>
<rect x="367.61" y="375.42" width="10.14" height="10.03" fill="#007070"/>
<rect x="367.61" y="385.40" width="10.14" height="10.03" fill="#004646"/>
<rect x="367.61" y="395.38" width="10.14" height="10.03" fill="#000e0e"/>
<rect x="367.61" y="405.36" width="10.14" height="10.03" fill="#008c8c"/>
<rect x="377.70" y="285.60" width="10.14" height="10.03" fill="#878700"/>
<rect x="377.70" y="295.58" width="10.14" height="10.03" fill="#b8b800"/>
<rect x="377.70" y="305.56" width="10.14" height="10.03" fill="#d0d000"/>
<rect x="377.70" y="315.54" width="10.14" height="10.03" fill="#a0a000"/>
<rect x="377.70" y="325.52" width="10.14" height="10.03" fill="#444400"/>
<rect x="377.70" y="335.50" width="10.14" height="10.03" fill="#7a7a00"/>
<rect x="377.70" y="345.48" width="10.14" height="10.03" fill="#000e0e"/>
<rect x="377.70" y="355.46" width="10.14" height="10.03" fill="#939300"/>
<rect x="377.70" y="365.44" width="10.14" height="10.03" fill="#000e0e"/>
<rect x="377.70" y="375.42" width="10.14" height="10.03" fill="#000e0e"/>
<rect x="377.70" y="385.40" width="10.14" height="10.03" fill="#00e0e0"/>
<rect x="377.70" y="395.38" width="10.14" height="10.03" fill="#353500"/>
<rect x="377.70" y="405.36" width="10.14" height="10.03" fill="#008c8c"/>
<rect x="387.79" y="285.60" width="10.14" height="10.03" fill="#acac00"/>
<rect x="387.79" y="295.58" width="10.14" height="10.03" fill="#b8b800"/>
<rect x="387.79" y="305.56" width="10.14" height="10.03" fill="#000000"/>
<rect x="387.79" y="315.54" width="10.14" height="10.03" fill="#007070"/>
<rect x="387.79" y="325.52" width="10.14" height="10.03" fill="#acac00"/>
<rect x="387.79" y="335.50" width="10.14" height="10.03" fill="#acac00"/>
<rect x="387.79" y="345.48" width="10.14" height="10.03" fill="#d0d000"/>
<rect x="387.79" y="355.46" width="10.14" height="10.03" fill="#939300"/>
<rect x="387.79" y="365.44" width="10.14" height="10.03" fill="#00fcfc"/>
<rect x="387.79" y="375.42" width="10.14" height="10.03" fill="#00fcfc"/>
<rect x="387.79" y="385.40" width="10.14" height="10.03" fill="#004646"/>
<rect x="387.79" y="395.38" width="10.14" height="10.03" fill="#00eeee"/>
<rect x="387.79" y="405.36" width="10.14" height="10.03" fill="#00a8a8"/>
<rect x="397.88" y="285.60" width="10.14" height="10.03" fill="#444400"/>
<rect x="397.88" y="295.58" width="10.14" height="10.03" fill="#000000"/>
<rect x="397.88" y="305.56" width="10.14" height="10.03" fill="#000000"/>
<rect x="397.88" y="315.54" width="10.14" height="10.03" fill="#001c1c"/>
<rect x="397.88" y="325.52" width="10.14" height="10.03" fill="#000e0e"/>
<rect x="397.88" y="335.50" width="10.14" height="10.03" fill="#000e0e"/>
<rect x="397.88" y="345.48" width="10.14" height="10.03" fill="#f3f300"/>
<rect x="397.88" y="355.46" width="10.14" height="10.03" fill="#c4c400"/>
<rect x="397.88" y="365.44" width="10.14" height="10.03" fill="#353500"/>
<rect x="397.88" y="375.42" width="10.14" height="10.03" fill="#00fcfc"/>
<rect x="397.88" y="385.40" width="10.14" height="10.03" fill="#000000"/>
<rect x="397.88" y="395.38" width="10.14" height="10.03" fill="#00fcfc"/>
<rect x="397.88" y="405.36" width="10.14" height="10.03" fill="#00d2d2"/>
</g>
<path d="M80.05,285.60V283.50H90.14V285.60M100.22,285.60V283.50H110.31V285.60M85.09,283.50V278.40H105.27V283.50M120.41,285.60V280.60H130.50V285.60M125.45,280.60V276.10H140.58V285.60M95.18,278.40V273.70H133.02V276.10M150.68,285.60V281.30H160.76V285.60M114.10,273.70V265.70H155.72V281.30M170.86,285.60V279.80H180.94V285.60M201.12,285.60V282.30H211.22V285.60M191.03,285.60V279.40H206.17V282.30M175.90,279.80V276.50H198.60V279.40M187.25,276.50V274.60H221.31V285.60M231.40,285.60V284.60H241.48V285.60M236.44,284.60V279.60H251.57V285.60M261.66,285.60V283.50H271.75V285.60M266.71,283.50V282.50H281.85V285.60M291.94,285.60V281.20H302.02V285.60M274.28,282.50V276.90H296.98V281.20M312.12,285.60V281.50H322.20V285.60M285.63,276.90V275.40H317.16V281.50M244.01,279.60V271.50H301.39V275.40M204.28,274.60V266.30H272.70V271.50M134.91,265.70V261.70H238.49V266.30M186.70,261.70V259.60H332.30V285.60M342.38,285.60V274.80H352.48V285.60M372.65,285.60V281.00H382.75V285.60M362.56,285.60V277.50H377.70V281.00M347.43,274.80V272.50H370.13V277.50M392.83,285.60V270.90H402.93V285.60M358.78,272.50V258.40H397.88V270.90M259.50,259.60V248.80H378.33V258.40" fill="none" stroke="#000" stroke-width="0.9"/>
<path d="M75.00,289.70H74.00V299.70H75.00M74.00,294.70H72.50V309.70H75.00M72.50,302.20H64.30V319.70H75.00M75.00,329.70H71.80V339.70H75.00M64.30,310.95H58.20V334.70H71.80M75.00,349.70H69.30V359.70H75.00M58.20,322.82H56.50V354.70H69.30M75.00,369.70H64.80V379.70H75.00M64.80,374.70H59.90V389.70H75.00M75.00,399.70H69.30V409.70H75.00M59.90,382.20H58.20V404.70H69.30M56.50,338.76H39.70V393.45H58.20" fill="none" stroke="#1a1a1a" stroke-width="0.9"/>
<text x="410.80" y="292.00" font-size="7.15" fill="#b41018" font-weight="bold" text-anchor="start" stroke="#b41018" stroke-width="0.32">(CXCR5+) CD57+CD25– LZ</text>
<text x="410.80" y="302.00" font-size="7.15" fill="#000000" font-weight="bold" text-anchor="start" stroke="#000000" stroke-width="0.32">(CD4+ T–cells) CD57 Bright</text>
<text x="410.80" y="312.00" font-size="7.15" fill="#b41018" font-weight="bold" text-anchor="start" stroke="#b41018" stroke-width="0.32">(CXCR5+) CD57+CD25+ Dual</text>
<text x="410.80" y="322.00" font-size="7.15" fill="#b41018" font-weight="bold" text-anchor="start" stroke="#b41018" stroke-width="0.32">(CXCR5+) CD57–CD25+ GC</text>
<text x="410.80" y="332.00" font-size="7.15" fill="#000000" font-weight="bold" text-anchor="start" stroke="#000000" stroke-width="0.32">(CD4+ T–cells) Effector Memory</text>
<text x="410.80" y="342.00" font-size="7.15" fill="#000000" font-weight="bold" text-anchor="start" stroke="#000000" stroke-width="0.32">(CD4+ T–cells) CXCR5+</text>
<text x="410.80" y="352.00" font-size="7.15" fill="#1010c0" font-weight="bold" text-anchor="start" stroke="#1010c0" stroke-width="0.32">(Effector Memory) CXCR3+</text>
<text x="410.80" y="362.00" font-size="7.15" fill="#8e521e" font-weight="bold" text-anchor="start" stroke="#8e521e" stroke-width="0.32">(Central Memory) CXCR3+</text>
<text x="410.80" y="372.00" font-size="7.15" fill="#000000" font-weight="bold" text-anchor="start" stroke="#000000" stroke-width="0.32">(CD4+ T–cells) CD4+ Naive</text>
<text x="410.80" y="382.00" font-size="7.15" fill="#000000" font-weight="bold" text-anchor="start" stroke="#000000" stroke-width="0.32">(CD4+ T–cells) Central Memory</text>
<text x="410.80" y="392.00" font-size="7.15" fill="#b41018" font-weight="bold" text-anchor="start" stroke="#b41018" stroke-width="0.32">(CXCR5+) CD57–CD25– OZ</text>
<text x="410.80" y="402.00" font-size="7.15" fill="#1010c0" font-weight="bold" text-anchor="start" stroke="#1010c0" stroke-width="0.32">(Effector Memory) CXCR3–</text>
<text x="410.80" y="412.00" font-size="7.15" fill="#8e521e" font-weight="bold" text-anchor="start" stroke="#8e521e" stroke-width="0.32">(Central Memory) CXCR3–</text>
<text x="77.75" y="417.80" font-size="6.7" fill="#a82cbc" font-weight="bold" text-anchor="start" transform="rotate(90 77.75 417.80)" stroke="#a82cbc" stroke-width="0.3">FL10</text>
<text x="87.84" y="417.80" font-size="6.7" fill="#dc2228" font-weight="bold" text-anchor="start" transform="rotate(90 87.84 417.80)" stroke="#dc2228" stroke-width="0.3">RLN2</text>
<text x="97.92" y="417.80" font-size="6.7" fill="#a82cbc" font-weight="bold" text-anchor="start" transform="rotate(90 97.92 417.80)" stroke="#a82cbc" stroke-width="0.3">FL12</text>
<text x="108.02" y="417.80" font-size="6.7" fill="#dc2228" font-weight="bold" text-anchor="start" transform="rotate(90 108.02 417.80)" stroke="#dc2228" stroke-width="0.3">RLN4</text>
<text x="118.11" y="417.80" font-size="6.7" fill="#a82cbc" font-weight="bold" text-anchor="start" transform="rotate(90 118.11 417.80)" stroke="#a82cbc" stroke-width="0.3">FL7</text>
<text x="128.19" y="417.80" font-size="6.7" fill="#a82cbc" font-weight="bold" text-anchor="start" transform="rotate(90 128.19 417.80)" stroke="#a82cbc" stroke-width="0.3">FL9</text>
<text x="138.28" y="417.80" font-size="6.7" fill="#a82cbc" font-weight="bold" text-anchor="start" transform="rotate(90 138.28 417.80)" stroke="#a82cbc" stroke-width="0.3">FL11</text>
<text x="148.38" y="417.80" font-size="6.7" fill="#28a030" font-weight="bold" text-anchor="start" transform="rotate(90 148.38 417.80)" stroke="#28a030" stroke-width="0.3">NLN1</text>
<text x="158.46" y="417.80" font-size="6.7" fill="#dc2228" font-weight="bold" text-anchor="start" transform="rotate(90 158.46 417.80)" stroke="#dc2228" stroke-width="0.3">RLN6</text>
<text x="168.56" y="417.80" font-size="6.7" fill="#a82cbc" font-weight="bold" text-anchor="start" transform="rotate(90 168.56 417.80)" stroke="#a82cbc" stroke-width="0.3">FL2</text>
<text x="178.64" y="417.80" font-size="6.7" fill="#28a030" font-weight="bold" text-anchor="start" transform="rotate(90 178.64 417.80)" stroke="#28a030" stroke-width="0.3">NLN8</text>
<text x="188.73" y="417.80" font-size="6.7" fill="#a82cbc" font-weight="bold" text-anchor="start" transform="rotate(90 188.73 417.80)" stroke="#a82cbc" stroke-width="0.3">FL5</text>
<text x="198.82" y="417.80" font-size="6.7" fill="#28a030" font-weight="bold" text-anchor="start" transform="rotate(90 198.82 417.80)" stroke="#28a030" stroke-width="0.3">NLN10</text>
<text x="208.91" y="417.80" font-size="6.7" fill="#dc2228" font-weight="bold" text-anchor="start" transform="rotate(90 208.91 417.80)" stroke="#dc2228" stroke-width="0.3">RLN5</text>
<text x="219.00" y="417.80" font-size="6.7" fill="#dc2228" font-weight="bold" text-anchor="start" transform="rotate(90 219.00 417.80)" stroke="#dc2228" stroke-width="0.3">RLN7</text>
<text x="229.09" y="417.80" font-size="6.7" fill="#28a030" font-weight="bold" text-anchor="start" transform="rotate(90 229.09 417.80)" stroke="#28a030" stroke-width="0.3">NLN6</text>
<text x="239.18" y="417.80" font-size="6.7" fill="#28a030" font-weight="bold" text-anchor="start" transform="rotate(90 239.18 417.80)" stroke="#28a030" stroke-width="0.3">NLN7</text>
<text x="249.27" y="417.80" font-size="6.7" fill="#28a030" font-weight="bold" text-anchor="start" transform="rotate(90 249.27 417.80)" stroke="#28a030" stroke-width="0.3">NLN9</text>
<text x="259.36" y="417.80" font-size="6.7" fill="#28a030" font-weight="bold" text-anchor="start" transform="rotate(90 259.36 417.80)" stroke="#28a030" stroke-width="0.3">NLN2</text>
<text x="269.45" y="417.80" font-size="6.7" fill="#28a030" font-weight="bold" text-anchor="start" transform="rotate(90 269.45 417.80)" stroke="#28a030" stroke-width="0.3">NLN5</text>
<text x="279.55" y="417.80" font-size="6.7" fill="#28a030" font-weight="bold" text-anchor="start" transform="rotate(90 279.55 417.80)" stroke="#28a030" stroke-width="0.3">NLN4</text>
<text x="289.63" y="417.80" font-size="6.7" fill="#dc2228" font-weight="bold" text-anchor="start" transform="rotate(90 289.63 417.80)" stroke="#dc2228" stroke-width="0.3">RLN9</text>
<text x="299.72" y="417.80" font-size="6.7" fill="#dc2228" font-weight="bold" text-anchor="start" transform="rotate(90 299.72 417.80)" stroke="#dc2228" stroke-width="0.3">RLN10</text>
<text x="309.81" y="417.80" font-size="6.7" fill="#28a030" font-weight="bold" text-anchor="start" transform="rotate(90 309.81 417.80)" stroke="#28a030" stroke-width="0.3">NLN3</text>
<text x="319.90" y="417.80" font-size="6.7" fill="#28a030" font-weight="bold" text-anchor="start" transform="rotate(90 319.90 417.80)" stroke="#28a030" stroke-width="0.3">NLN11</text>
<text x="330.00" y="417.80" font-size="6.7" fill="#dc2228" font-weight="bold" text-anchor="start" transform="rotate(90 330.00 417.80)" stroke="#dc2228" stroke-width="0.3">RLN1</text>
<text x="340.08" y="417.80" font-size="6.7" fill="#a82cbc" font-weight="bold" text-anchor="start" transform="rotate(90 340.08 417.80)" stroke="#a82cbc" stroke-width="0.3">FL1</text>
<text x="350.18" y="417.80" font-size="6.7" fill="#a82cbc" font-weight="bold" text-anchor="start" transform="rotate(90 350.18 417.80)" stroke="#a82cbc" stroke-width="0.3">FL6</text>
<text x="360.26" y="417.80" font-size="6.7" fill="#a82cbc" font-weight="bold" text-anchor="start" transform="rotate(90 360.26 417.80)" stroke="#a82cbc" stroke-width="0.3">FL8</text>
<text x="370.35" y="417.80" font-size="6.7" fill="#a82cbc" font-weight="bold" text-anchor="start" transform="rotate(90 370.35 417.80)" stroke="#a82cbc" stroke-width="0.3">FL3</text>
<text x="380.44" y="417.80" font-size="6.7" fill="#a82cbc" font-weight="bold" text-anchor="start" transform="rotate(90 380.44 417.80)" stroke="#a82cbc" stroke-width="0.3">FL4</text>
<text x="390.53" y="417.80" font-size="6.7" fill="#dc2228" font-weight="bold" text-anchor="start" transform="rotate(90 390.53 417.80)" stroke="#dc2228" stroke-width="0.3">RLN3</text>
<text x="400.62" y="417.80" font-size="6.7" fill="#dc2228" font-weight="bold" text-anchor="start" transform="rotate(90 400.62 417.80)" stroke="#dc2228" stroke-width="0.3">RLN8</text>
<text x="2.70" y="460.40" font-size="16.5" fill="#000" font-weight="bold" text-anchor="start">C</text>
<path d="M54.90,455.20V694.00H293.70" fill="none" stroke="#c8c8c8" stroke-width="1"/>
<text x="54.90" y="700.60" font-size="5.6" fill="#222" font-weight="normal" text-anchor="middle" stroke="#222" stroke-width="0.2">-6</text>
<text x="94.70" y="700.60" font-size="5.6" fill="#222" font-weight="normal" text-anchor="middle" stroke="#222" stroke-width="0.2">-4</text>
<text x="134.50" y="700.60" font-size="5.6" fill="#222" font-weight="normal" text-anchor="middle" stroke="#222" stroke-width="0.2">-2</text>
<text x="174.30" y="700.60" font-size="5.6" fill="#222" font-weight="normal" text-anchor="middle" stroke="#222" stroke-width="0.2">0</text>
<text x="214.10" y="700.60" font-size="5.6" fill="#222" font-weight="normal" text-anchor="middle" stroke="#222" stroke-width="0.2">2</text>
<text x="253.90" y="700.60" font-size="5.6" fill="#222" font-weight="normal" text-anchor="middle" stroke="#222" stroke-width="0.2">4</text>
<text x="293.70" y="700.60" font-size="5.6" fill="#222" font-weight="normal" text-anchor="middle" stroke="#222" stroke-width="0.2">6</text>
<text x="52.60" y="656.20" font-size="5.6" fill="#222" font-weight="normal" text-anchor="end" stroke="#222" stroke-width="0.2">-4</text>
<text x="52.60" y="616.40" font-size="5.6" fill="#222" font-weight="normal" text-anchor="end" stroke="#222" stroke-width="0.2">-2</text>
<text x="52.60" y="576.60" font-size="5.6" fill="#222" font-weight="normal" text-anchor="end" stroke="#222" stroke-width="0.2">0</text>
<text x="52.60" y="536.80" font-size="5.6" fill="#222" font-weight="normal" text-anchor="end" stroke="#222" stroke-width="0.2">2</text>
<text x="52.60" y="497.00" font-size="5.6" fill="#222" font-weight="normal" text-anchor="end" stroke="#222" stroke-width="0.2">4</text>
<text x="52.60" y="457.20" font-size="5.6" fill="#222" font-weight="normal" text-anchor="end" stroke="#222" stroke-width="0.2">6</text>
<text x="173.50" y="710.00" font-size="9.9" fill="#000" font-weight="bold" text-anchor="middle" stroke="#000" stroke-width="0.3">Principal Component 1</text>
<text x="43.50" y="575.00" font-size="9.9" fill="#000" font-weight="bold" text-anchor="middle" transform="rotate(-90 43.50 575.00)" stroke="#000" stroke-width="0.3">Principal Component 2</text>
<line x1="174.3" y1="574.6" x2="95.5" y2="505.0" stroke="#c4c4c4" stroke-width="0.9"/>
<line x1="174.3" y1="574.6" x2="227.6" y2="480.3" stroke="#c4c4c4" stroke-width="0.9"/>
<line x1="174.3" y1="574.6" x2="228.2" y2="480.6" stroke="#c4c4c4" stroke-width="0.9"/>
<line x1="174.3" y1="574.6" x2="229.0" y2="571.0" stroke="#c4c4c4" stroke-width="0.9"/>
<line x1="174.3" y1="574.6" x2="240.0" y2="584.5" stroke="#c4c4c4" stroke-width="0.9"/>
<line x1="174.3" y1="574.6" x2="265.0" y2="620.0" stroke="#c4c4c4" stroke-width="0.9"/>
<line x1="174.3" y1="574.6" x2="252.0" y2="627.0" stroke="#c4c4c4" stroke-width="0.9"/>
<line x1="174.3" y1="574.6" x2="250.0" y2="652.0" stroke="#c4c4c4" stroke-width="0.9"/>
<line x1="174.3" y1="574.6" x2="222.0" y2="631.0" stroke="#c4c4c4" stroke-width="0.9"/>
<line x1="174.3" y1="574.6" x2="124.0" y2="587.0" stroke="#c4c4c4" stroke-width="0.9"/>
<line x1="174.3" y1="574.6" x2="110.0" y2="602.0" stroke="#c4c4c4" stroke-width="0.9"/>
<line x1="174.3" y1="574.6" x2="114.0" y2="669.0" stroke="#c4c4c4" stroke-width="0.9"/>
<line x1="174.3" y1="574.6" x2="116.8" y2="669.5" stroke="#c4c4c4" stroke-width="0.9"/>
<text x="95.00" y="506.00" font-size="6.7" fill="#b41018" font-weight="normal" text-anchor="end" transform="rotate(41.5 95.00 506.00)" stroke="#b41018" stroke-width="0.35">CD57–CD25– OZ</text>
<text x="225.50" y="478.50" font-size="6.7" fill="#1010c0" font-weight="normal" text-anchor="start" transform="rotate(-58 225.50 478.50)" stroke="#1010c0" stroke-width="0.35">CXCR3+</text>
<text x="232.50" y="479.00" font-size="6.7" fill="#a86a30" font-weight="normal" text-anchor="start" transform="rotate(-58 232.50 479.00)" stroke="#a86a30" stroke-width="0.35">CXCR3+</text>
<text x="235.50" y="573.60" font-size="6.7" fill="#000000" font-weight="normal" text-anchor="start" transform="rotate(-2 235.50 573.60)" stroke="#000000" stroke-width="0.35">Effector Memory</text>
<text x="241.50" y="586.50" font-size="6.7" fill="#000000" font-weight="normal" text-anchor="start" transform="rotate(8.5 241.50 586.50)" stroke="#000000" stroke-width="0.35">CXCR5+</text>
<text x="266.00" y="623.50" font-size="6.7" fill="#000000" font-weight="normal" text-anchor="start" transform="rotate(28 266.00 623.50)" stroke="#000000" stroke-width="0.35">CD57 Bright</text>
<text x="252.00" y="628.50" font-size="6.7" fill="#b41018" font-weight="normal" text-anchor="start" transform="rotate(35 252.00 628.50)" stroke="#b41018" stroke-width="0.35">CD57+CD25– LZ</text>
<text x="250.50" y="654.00" font-size="6.7" fill="#b41018" font-weight="normal" text-anchor="start" transform="rotate(47 250.50 654.00)" stroke="#b41018" stroke-width="0.35">CD57+CD25+ Dual</text>
<text x="221.50" y="632.50" font-size="6.7" fill="#b41018" font-weight="normal" text-anchor="start" transform="rotate(48 221.50 632.50)" stroke="#b41018" stroke-width="0.35">CD57–CD25+ GC</text>
<text x="123.00" y="589.50" font-size="6.7" fill="#000000" font-weight="normal" text-anchor="end" transform="rotate(-13 123.00 589.50)" stroke="#000000" stroke-width="0.35">CD4+ Naive</text>
<text x="109.80" y="605.00" font-size="6.7" fill="#000000" font-weight="normal" text-anchor="end" transform="rotate(-22 109.80 605.00)" stroke="#000000" stroke-width="0.35">Central Memory</text>
<text x="115.00" y="669.00" font-size="6.7" fill="#a86a30" font-weight="normal" text-anchor="end" transform="rotate(-59 115.00 669.00)" stroke="#a86a30" stroke-width="0.35">CXCR3–</text>
<text x="122.60" y="670.20" font-size="6.7" fill="#1010c0" font-weight="normal" text-anchor="end" transform="rotate(-59 122.60 670.20)" stroke="#1010c0" stroke-width="0.35">CXCR3–</text>
<circle cx="113.75" cy="536.75" r="2.4" fill="none" stroke="#1e8c28" stroke-width="1.05"/>
<circle cx="115.75" cy="547.75" r="2.4" fill="none" stroke="#1e8c28" stroke-width="1.05"/>
<circle cx="137.5" cy="549" r="2.4" fill="none" stroke="#1e8c28" stroke-width="1.05"/>
<circle cx="157.5" cy="548.75" r="2.4" fill="none" stroke="#1e8c28" stroke-width="1.05"/>
<circle cx="140" cy="558" r="2.4" fill="none" stroke="#1e8c28" stroke-width="1.05"/>
<circle cx="149.25" cy="567.75" r="2.4" fill="none" stroke="#1e8c28" stroke-width="1.05"/>
<circle cx="156.25" cy="573.5" r="2.4" fill="none" stroke="#1e8c28" stroke-width="1.05"/>
<circle cx="137.75" cy="576.25" r="2.4" fill="none" stroke="#1e8c28" stroke-width="1.05"/>
<circle cx="127.75" cy="585.25" r="2.4" fill="none" stroke="#1e8c28" stroke-width="1.05"/>
<circle cx="177.5" cy="555.75" r="2.4" fill="none" stroke="#1e8c28" stroke-width="1.05"/>
<circle cx="176.25" cy="565.75" r="2.4" fill="none" stroke="#1e8c28" stroke-width="1.05"/>
<circle cx="112" cy="565" r="1.9" fill="#d41828"/><path d="M109.40,565.00L114.60,565.00M110.16,563.16L113.84,566.84M112.00,562.40L112.00,567.60M113.84,563.16L110.16,566.84" stroke="#d41828" stroke-width="0.8" fill="none"/>
<circle cx="130.5" cy="561.5" r="1.9" fill="#d41828"/><path d="M127.90,561.50L133.10,561.50M128.66,559.66L132.34,563.34M130.50,558.90L130.50,564.10M132.34,559.66L128.66,563.34" stroke="#d41828" stroke-width="0.8" fill="none"/>
<circle cx="130" cy="572.75" r="1.9" fill="#d41828"/><path d="M127.40,572.75L132.60,572.75M128.16,570.91L131.84,574.59M130.00,570.15L130.00,575.35M131.84,570.91L128.16,574.59" stroke="#d41828" stroke-width="0.8" fill="none"/>
<circle cx="145.5" cy="598.75" r="1.9" fill="#d41828"/><path d="M142.90,598.75L148.10,598.75M143.66,596.91L147.34,600.59M145.50,596.15L145.50,601.35M147.34,596.91L143.66,600.59" stroke="#d41828" stroke-width="0.8" fill="none"/>
<circle cx="156.9" cy="513.9" r="1.9" fill="#d41828"/><path d="M154.30,513.90L159.50,513.90M155.06,512.06L158.74,515.74M156.90,511.30L156.90,516.50M158.74,512.06L155.06,515.74" stroke="#d41828" stroke-width="0.8" fill="none"/>
<circle cx="235" cy="497.5" r="1.9" fill="#d41828"/><path d="M232.40,497.50L237.60,497.50M233.16,495.66L236.84,499.34M235.00,494.90L235.00,500.10M236.84,495.66L233.16,499.34" stroke="#d41828" stroke-width="0.8" fill="none"/>
<circle cx="185.2" cy="552.7" r="1.9" fill="#d41828"/><path d="M182.60,552.70L187.80,552.70M183.36,550.86L187.04,554.54M185.20,550.10L185.20,555.30M187.04,550.86L183.36,554.54" stroke="#d41828" stroke-width="0.8" fill="none"/>
<circle cx="274.6" cy="523.1" r="1.9" fill="#d41828"/><path d="M272.00,523.10L277.20,523.10M272.76,521.26L276.44,524.94M274.60,520.50L274.60,525.70M276.44,521.26L272.76,524.94" stroke="#d41828" stroke-width="0.8" fill="none"/>
<circle cx="177.5" cy="625.6" r="1.9" fill="#d41828"/><path d="M174.90,625.60L180.10,625.60M175.66,623.76L179.34,627.44M177.50,623.00L177.50,628.20M179.34,623.76L175.66,627.44" stroke="#d41828" stroke-width="0.8" fill="none"/>
<circle cx="116.25" cy="642.5" r="1.9" fill="#d41828"/><path d="M113.65,642.50L118.85,642.50M114.41,640.66L118.09,644.34M116.25,639.90L116.25,645.10M118.09,640.66L114.41,644.34" stroke="#d41828" stroke-width="0.8" fill="none"/>
<path d="M199.75,536.00L206.75,536.00L203.25,541.77Z" fill="#561078"/>
<path d="M212.75,551.25L219.75,551.25L216.25,557.02Z" fill="#561078"/>
<path d="M224.00,568.75L231.00,568.75L227.50,574.52Z" fill="#561078"/>
<path d="M206.50,581.00L213.50,581.00L210.00,586.77Z" fill="#561078"/>
<path d="M184.00,596.00L191.00,596.00L187.50,601.77Z" fill="#561078"/>
<path d="M234.00,597.50L241.00,597.50L237.50,603.27Z" fill="#561078"/>
<path d="M259.75,604.00L266.75,604.00L263.25,609.77Z" fill="#561078"/>
<path d="M206.50,609.50L213.50,609.50L210.00,615.27Z" fill="#561078"/>
<path d="M208.50,626.00L215.50,626.00L212.00,631.77Z" fill="#561078"/>
<path d="M205.25,628.00L212.25,628.00L208.75,633.77Z" fill="#561078"/>
<path d="M158.25,599.25L165.25,599.25L161.75,605.02Z" fill="#561078"/>
<path d="M155.75,620.50L162.75,620.50L159.25,626.27Z" fill="#561078"/>
<rect x="301.3" y="457.5" width="33.7" height="33.3" fill="#fff" stroke="#bbb" stroke-width="0.8"/>
<circle cx="310" cy="463.8" r="2.7" fill="none" stroke="#1e8c28" stroke-width="1.1"/>
<path d="M306.50,473.00L313.50,473.00L310.00,478.78Z" fill="#561078"/>
<circle cx="310" cy="485" r="1.9" fill="#d41828"/><path d="M307.50,485.00L312.50,485.00M308.23,483.23L311.77,486.77M310.00,482.50L310.00,487.50M311.77,483.23L308.23,486.77" stroke="#d41828" stroke-width="0.8" fill="none"/>
<text x="317.50" y="466.60" font-size="7.6" fill="#000" font-weight="bold" text-anchor="start" stroke="#000" stroke-width="0.35">NLN</text>
<text x="317.50" y="477.60" font-size="7.6" fill="#000" font-weight="bold" text-anchor="start" stroke="#000" stroke-width="0.35">FL</text>
<text x="317.50" y="487.80" font-size="7.6" fill="#000" font-weight="bold" text-anchor="start" stroke="#000" stroke-width="0.35">RLN</text>
<text x="302.00" y="509.80" font-size="7.6" fill="#0c0cd8" font-weight="bold" text-anchor="start" stroke="#0c0cd8" stroke-width="0.35">Effector Memory</text>
<text x="302.00" y="519.80" font-size="7.6" fill="#8e521e" font-weight="bold" text-anchor="start" stroke="#8e521e" stroke-width="0.35">Central Memory</text>
<text x="302.00" y="529.00" font-size="7.6" fill="#c01010" font-weight="bold" text-anchor="start" stroke="#c01010" stroke-width="0.35">CXCR5+</text>
<text x="302.00" y="539.80" font-size="7.6" fill="#000" font-weight="bold" text-anchor="start" stroke="#000" stroke-width="0.35">CD4+ T–cells</text>
<path d="M372.5,567.0V688.0H493.5" fill="none" stroke="#555" stroke-width="0.9"/>
<rect x="376.35" y="639.20" width="8.9" height="48.80" fill="#0a0a8c"/>
<rect x="387.93" y="664.14" width="8.9" height="23.86" fill="#0a0a8c"/>
<rect x="399.51" y="669.32" width="8.9" height="18.68" fill="#0a0a8c"/>
<rect x="411.09" y="678.84" width="8.9" height="9.16" fill="#0a0a8c"/>
<rect x="422.67" y="681.01" width="8.9" height="6.99" fill="#0a0a8c"/>
<rect x="434.25" y="683.90" width="8.9" height="4.10" fill="#0a0a8c"/>
<rect x="445.83" y="684.63" width="8.9" height="3.37" fill="#0a0a8c"/>
<rect x="457.41" y="686.19" width="8.9" height="1.81" fill="#0a0a8c"/>
<rect x="468.99" y="686.55" width="8.9" height="1.45" fill="#0a0a8c"/>
<rect x="480.57" y="687.16" width="8.9" height="0.84" fill="#0a0a8c"/>
<polyline points="380.80,639.20 392.38,614.50 403.96,597.02 415.54,587.99 427.12,581.36 438.70,577.14 450.28,574.13 461.86,571.72 473.44,570.15 485.02,568.95" fill="none" stroke="#1c1ccc" stroke-width="1.8" stroke-linejoin="round"/>
<text x="380.80" y="698.40" font-size="7.6" fill="#1a1a1a" font-weight="normal" text-anchor="middle" stroke="#1a1a1a" stroke-width="0.2">1</text>
<text x="392.38" y="698.40" font-size="7.6" fill="#1a1a1a" font-weight="normal" text-anchor="middle" stroke="#1a1a1a" stroke-width="0.2">2</text>
<text x="403.96" y="698.40" font-size="7.6" fill="#1a1a1a" font-weight="normal" text-anchor="middle" stroke="#1a1a1a" stroke-width="0.2">3</text>
<text x="415.54" y="698.40" font-size="7.6" fill="#1a1a1a" font-weight="normal" text-anchor="middle" stroke="#1a1a1a" stroke-width="0.2">4</text>
<text x="427.12" y="698.40" font-size="7.6" fill="#1a1a1a" font-weight="normal" text-anchor="middle" stroke="#1a1a1a" stroke-width="0.2">5</text>
<text x="438.70" y="698.40" font-size="7.6" fill="#1a1a1a" font-weight="normal" text-anchor="middle" stroke="#1a1a1a" stroke-width="0.2">6</text>
<text x="450.28" y="698.40" font-size="7.6" fill="#1a1a1a" font-weight="normal" text-anchor="middle" stroke="#1a1a1a" stroke-width="0.2">7</text>
<text x="461.86" y="698.40" font-size="7.6" fill="#1a1a1a" font-weight="normal" text-anchor="middle" stroke="#1a1a1a" stroke-width="0.2">8</text>
<text x="473.44" y="698.40" font-size="7.6" fill="#1a1a1a" font-weight="normal" text-anchor="middle" stroke="#1a1a1a" stroke-width="0.2">9</text>
<text x="485.02" y="698.40" font-size="7.6" fill="#1a1a1a" font-weight="normal" text-anchor="middle" stroke="#1a1a1a" stroke-width="0.2">10</text>
<text x="369.20" y="690.70" font-size="7.8" fill="#1a1a1a" font-weight="normal" text-anchor="end" stroke="#1a1a1a" stroke-width="0.2">0</text>
<text x="369.20" y="666.60" font-size="7.8" fill="#1a1a1a" font-weight="normal" text-anchor="end" stroke="#1a1a1a" stroke-width="0.2">20</text>
<text x="369.20" y="642.50" font-size="7.8" fill="#1a1a1a" font-weight="normal" text-anchor="end" stroke="#1a1a1a" stroke-width="0.2">40</text>
<text x="369.20" y="618.40" font-size="7.8" fill="#1a1a1a" font-weight="normal" text-anchor="end" stroke="#1a1a1a" stroke-width="0.2">60</text>
<text x="369.20" y="594.30" font-size="7.8" fill="#1a1a1a" font-weight="normal" text-anchor="end" stroke="#1a1a1a" stroke-width="0.2">80</text>
<text x="369.20" y="570.20" font-size="7.8" fill="#1a1a1a" font-weight="normal" text-anchor="end" stroke="#1a1a1a" stroke-width="0.2">100</text>
<text x="433.50" y="708.70" font-size="11.4" fill="#000" font-weight="bold" text-anchor="middle" stroke="#000" stroke-width="0.3">Principal Component</text>
<text x="356.60" y="627.80" font-size="11.6" fill="#000" font-weight="bold" text-anchor="middle" transform="rotate(-90 356.60 627.80)" stroke="#000" stroke-width="0.3">% Variance Explained</text>
<text x="443.00" y="628.50" font-size="12.3" fill="#000" font-weight="bold" text-anchor="middle" stroke="#000" stroke-width="0.3">Pareto plot</text>
</g>
</svg>
</body></html>
